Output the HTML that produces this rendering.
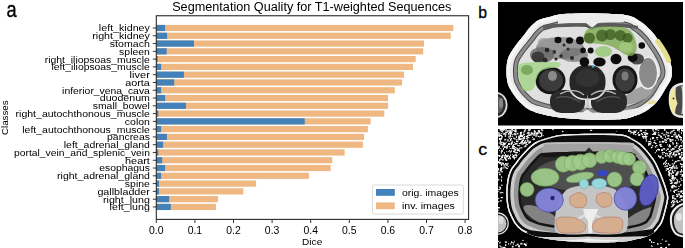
<!DOCTYPE html>
<html><head><meta charset="utf-8"><style>
html,body{margin:0;padding:0;background:#fff;}
body{width:685px;height:248px;overflow:hidden;position:relative;}
svg{position:absolute;left:0;top:0;display:block;}
</style></head><body>
<svg width="685" height="248" viewBox="0 0 685 248">
<defs>
<clipPath id="clipb"><rect width="185" height="123.6"/></clipPath>
<clipPath id="clipc"><rect width="185" height="119"/></clipPath>
<filter id="soft" x="0" y="0" width="1" height="1"><feGaussianBlur stdDeviation="0.7"/></filter>
</defs>
<rect width="685" height="248" fill="#fff"/>
<g font-family="Liberation Sans, sans-serif" fill="#000" style="will-change:transform">
<rect x="156.30" y="24.90" width="297.00" height="6.2" fill="#efb883"/>
<rect x="156.30" y="24.90" width="8.80" height="6.2" fill="#4281b9"/>
<rect x="156.30" y="32.68" width="294.50" height="6.2" fill="#efb883"/>
<rect x="156.30" y="32.68" width="10.80" height="6.2" fill="#4281b9"/>
<rect x="156.30" y="40.46" width="267.70" height="6.2" fill="#efb883"/>
<rect x="156.30" y="40.46" width="37.70" height="6.2" fill="#4281b9"/>
<rect x="156.30" y="48.24" width="266.90" height="6.2" fill="#efb883"/>
<rect x="156.30" y="48.24" width="10.40" height="6.2" fill="#4281b9"/>
<rect x="156.30" y="56.02" width="259.40" height="6.2" fill="#efb883"/>
<rect x="156.30" y="56.02" width="1.40" height="6.2" fill="#4281b9"/>
<rect x="156.30" y="63.80" width="256.70" height="6.2" fill="#efb883"/>
<rect x="156.30" y="63.80" width="4.80" height="6.2" fill="#4281b9"/>
<rect x="156.30" y="71.58" width="247.80" height="6.2" fill="#efb883"/>
<rect x="156.30" y="71.58" width="27.60" height="6.2" fill="#4281b9"/>
<rect x="156.30" y="79.36" width="245.80" height="6.2" fill="#efb883"/>
<rect x="156.30" y="79.36" width="17.90" height="6.2" fill="#4281b9"/>
<rect x="156.30" y="87.14" width="238.50" height="6.2" fill="#efb883"/>
<rect x="156.30" y="87.14" width="4.80" height="6.2" fill="#4281b9"/>
<rect x="156.30" y="94.92" width="231.80" height="6.2" fill="#efb883"/>
<rect x="156.30" y="94.92" width="8.80" height="6.2" fill="#4281b9"/>
<rect x="156.30" y="102.70" width="231.80" height="6.2" fill="#efb883"/>
<rect x="156.30" y="102.70" width="29.60" height="6.2" fill="#4281b9"/>
<rect x="156.30" y="110.48" width="228.00" height="6.2" fill="#efb883"/>
<rect x="156.30" y="110.48" width="2.00" height="6.2" fill="#4281b9"/>
<rect x="156.30" y="118.26" width="214.30" height="6.2" fill="#efb883"/>
<rect x="156.30" y="118.26" width="148.40" height="6.2" fill="#4281b9"/>
<rect x="156.30" y="126.04" width="211.60" height="6.2" fill="#efb883"/>
<rect x="156.30" y="126.04" width="4.80" height="6.2" fill="#4281b9"/>
<rect x="156.30" y="133.82" width="207.80" height="6.2" fill="#efb883"/>
<rect x="156.30" y="133.82" width="10.60" height="6.2" fill="#4281b9"/>
<rect x="156.30" y="141.60" width="206.60" height="6.2" fill="#efb883"/>
<rect x="156.30" y="141.60" width="6.80" height="6.2" fill="#4281b9"/>
<rect x="156.30" y="149.38" width="188.30" height="6.2" fill="#efb883"/>
<rect x="156.30" y="149.38" width="2.00" height="6.2" fill="#4281b9"/>
<rect x="156.30" y="157.16" width="176.00" height="6.2" fill="#efb883"/>
<rect x="156.30" y="157.16" width="5.90" height="6.2" fill="#4281b9"/>
<rect x="156.30" y="164.94" width="174.40" height="6.2" fill="#efb883"/>
<rect x="156.30" y="164.94" width="8.80" height="6.2" fill="#4281b9"/>
<rect x="156.30" y="172.72" width="152.60" height="6.2" fill="#efb883"/>
<rect x="156.30" y="172.72" width="4.80" height="6.2" fill="#4281b9"/>
<rect x="156.30" y="180.50" width="99.80" height="6.2" fill="#efb883"/>
<rect x="156.30" y="180.50" width="2.70" height="6.2" fill="#4281b9"/>
<rect x="156.30" y="188.28" width="87.00" height="6.2" fill="#efb883"/>
<rect x="156.30" y="188.28" width="2.70" height="6.2" fill="#4281b9"/>
<rect x="156.30" y="196.06" width="61.80" height="6.2" fill="#efb883"/>
<rect x="156.30" y="196.06" width="12.90" height="6.2" fill="#4281b9"/>
<rect x="156.30" y="203.84" width="59.60" height="6.2" fill="#efb883"/>
<rect x="156.30" y="203.84" width="14.50" height="6.2" fill="#4281b9"/>
<text x="149.9" y="31.40" text-anchor="end" font-size="9.6" textLength="51.03" lengthAdjust="spacingAndGlyphs">left_kidney</text>
<line x1="152.8" x2="156.5" y1="28.00" y2="28.00" stroke="#000" stroke-width="0.8"/>
<text x="149.9" y="39.18" text-anchor="end" font-size="9.6" textLength="57.68" lengthAdjust="spacingAndGlyphs">right_kidney</text>
<line x1="152.8" x2="156.5" y1="35.78" y2="35.78" stroke="#000" stroke-width="0.8"/>
<text x="149.9" y="46.96" text-anchor="end" font-size="9.6" textLength="40.08" lengthAdjust="spacingAndGlyphs">stomach</text>
<line x1="152.8" x2="156.5" y1="43.56" y2="43.56" stroke="#000" stroke-width="0.8"/>
<text x="149.9" y="54.74" text-anchor="end" font-size="9.6" textLength="30.77" lengthAdjust="spacingAndGlyphs">spleen</text>
<line x1="152.8" x2="156.5" y1="51.34" y2="51.34" stroke="#000" stroke-width="0.8"/>
<text x="149.9" y="62.52" text-anchor="end" font-size="9.6" textLength="105.13" lengthAdjust="spacingAndGlyphs">right_iliopsoas_muscle</text>
<line x1="152.8" x2="156.5" y1="59.12" y2="59.12" stroke="#000" stroke-width="0.8"/>
<text x="149.9" y="70.30" text-anchor="end" font-size="9.6" textLength="98.48" lengthAdjust="spacingAndGlyphs">left_iliopsoas_muscle</text>
<line x1="152.8" x2="156.5" y1="66.90" y2="66.90" stroke="#000" stroke-width="0.8"/>
<text x="149.9" y="78.08" text-anchor="end" font-size="9.6" textLength="20.28" lengthAdjust="spacingAndGlyphs">liver</text>
<line x1="152.8" x2="156.5" y1="74.68" y2="74.68" stroke="#000" stroke-width="0.8"/>
<text x="149.9" y="85.86" text-anchor="end" font-size="9.6" textLength="24.64" lengthAdjust="spacingAndGlyphs">aorta</text>
<line x1="152.8" x2="156.5" y1="82.46" y2="82.46" stroke="#000" stroke-width="0.8"/>
<text x="149.9" y="93.64" text-anchor="end" font-size="9.6" textLength="87.81" lengthAdjust="spacingAndGlyphs">inferior_vena_cava</text>
<line x1="152.8" x2="156.5" y1="90.24" y2="90.24" stroke="#000" stroke-width="0.8"/>
<text x="149.9" y="101.42" text-anchor="end" font-size="9.6" textLength="50.12" lengthAdjust="spacingAndGlyphs">duodenum</text>
<line x1="152.8" x2="156.5" y1="98.02" y2="98.02" stroke="#000" stroke-width="0.8"/>
<text x="149.9" y="109.20" text-anchor="end" font-size="9.6" textLength="57.11" lengthAdjust="spacingAndGlyphs">small_bowel</text>
<line x1="152.8" x2="156.5" y1="105.80" y2="105.80" stroke="#000" stroke-width="0.8"/>
<text x="149.9" y="116.98" text-anchor="end" font-size="9.6" textLength="134.29" lengthAdjust="spacingAndGlyphs">right_autochthonous_muscle</text>
<line x1="152.8" x2="156.5" y1="113.58" y2="113.58" stroke="#000" stroke-width="0.8"/>
<text x="149.9" y="124.76" text-anchor="end" font-size="9.6" textLength="25.05" lengthAdjust="spacingAndGlyphs">colon</text>
<line x1="152.8" x2="156.5" y1="121.36" y2="121.36" stroke="#000" stroke-width="0.8"/>
<text x="149.9" y="132.54" text-anchor="end" font-size="9.6" textLength="127.65" lengthAdjust="spacingAndGlyphs">left_autochthonous_muscle</text>
<line x1="152.8" x2="156.5" y1="129.14" y2="129.14" stroke="#000" stroke-width="0.8"/>
<text x="149.9" y="140.32" text-anchor="end" font-size="9.6" textLength="42.84" lengthAdjust="spacingAndGlyphs">pancreas</text>
<line x1="152.8" x2="156.5" y1="136.92" y2="136.92" stroke="#000" stroke-width="0.8"/>
<text x="149.9" y="148.10" text-anchor="end" font-size="9.6" textLength="86.11" lengthAdjust="spacingAndGlyphs">left_adrenal_gland</text>
<line x1="152.8" x2="156.5" y1="144.70" y2="144.70" stroke="#000" stroke-width="0.8"/>
<text x="149.9" y="155.88" text-anchor="end" font-size="9.6" textLength="135.93" lengthAdjust="spacingAndGlyphs">portal_vein_and_splenic_vein</text>
<line x1="152.8" x2="156.5" y1="152.48" y2="152.48" stroke="#000" stroke-width="0.8"/>
<text x="149.9" y="163.66" text-anchor="end" font-size="9.6" textLength="24.86" lengthAdjust="spacingAndGlyphs">heart</text>
<line x1="152.8" x2="156.5" y1="160.26" y2="160.26" stroke="#000" stroke-width="0.8"/>
<text x="149.9" y="171.44" text-anchor="end" font-size="9.6" textLength="50.56" lengthAdjust="spacingAndGlyphs">esophagus</text>
<line x1="152.8" x2="156.5" y1="168.04" y2="168.04" stroke="#000" stroke-width="0.8"/>
<text x="149.9" y="179.22" text-anchor="end" font-size="9.6" textLength="92.76" lengthAdjust="spacingAndGlyphs">right_adrenal_gland</text>
<line x1="152.8" x2="156.5" y1="175.82" y2="175.82" stroke="#000" stroke-width="0.8"/>
<text x="149.9" y="187.00" text-anchor="end" font-size="9.6" textLength="25.03" lengthAdjust="spacingAndGlyphs">spine</text>
<line x1="152.8" x2="156.5" y1="183.60" y2="183.60" stroke="#000" stroke-width="0.8"/>
<text x="149.9" y="194.78" text-anchor="end" font-size="9.6" textLength="52.48" lengthAdjust="spacingAndGlyphs">gallbladder</text>
<line x1="152.8" x2="156.5" y1="191.38" y2="191.38" stroke="#000" stroke-width="0.8"/>
<text x="149.9" y="202.56" text-anchor="end" font-size="9.6" textLength="46.93" lengthAdjust="spacingAndGlyphs">right_lung</text>
<line x1="152.8" x2="156.5" y1="199.16" y2="199.16" stroke="#000" stroke-width="0.8"/>
<text x="149.9" y="210.34" text-anchor="end" font-size="9.6" textLength="40.28" lengthAdjust="spacingAndGlyphs">left_lung</text>
<line x1="152.8" x2="156.5" y1="206.94" y2="206.94" stroke="#000" stroke-width="0.8"/>
<line x1="156.30" x2="156.30" y1="219.5" y2="223" stroke="#000" stroke-width="0.8"/>
<text x="156.30" y="233.5" text-anchor="middle" font-size="10.2" textLength="14.55" lengthAdjust="spacingAndGlyphs">0.0</text>
<line x1="194.90" x2="194.90" y1="219.5" y2="223" stroke="#000" stroke-width="0.8"/>
<text x="194.90" y="233.5" text-anchor="middle" font-size="10.2" textLength="14.55" lengthAdjust="spacingAndGlyphs">0.1</text>
<line x1="233.50" x2="233.50" y1="219.5" y2="223" stroke="#000" stroke-width="0.8"/>
<text x="233.50" y="233.5" text-anchor="middle" font-size="10.2" textLength="14.55" lengthAdjust="spacingAndGlyphs">0.2</text>
<line x1="272.10" x2="272.10" y1="219.5" y2="223" stroke="#000" stroke-width="0.8"/>
<text x="272.10" y="233.5" text-anchor="middle" font-size="10.2" textLength="14.55" lengthAdjust="spacingAndGlyphs">0.3</text>
<line x1="310.70" x2="310.70" y1="219.5" y2="223" stroke="#000" stroke-width="0.8"/>
<text x="310.70" y="233.5" text-anchor="middle" font-size="10.2" textLength="14.55" lengthAdjust="spacingAndGlyphs">0.4</text>
<line x1="349.30" x2="349.30" y1="219.5" y2="223" stroke="#000" stroke-width="0.8"/>
<text x="349.30" y="233.5" text-anchor="middle" font-size="10.2" textLength="14.55" lengthAdjust="spacingAndGlyphs">0.5</text>
<line x1="387.90" x2="387.90" y1="219.5" y2="223" stroke="#000" stroke-width="0.8"/>
<text x="387.90" y="233.5" text-anchor="middle" font-size="10.2" textLength="14.55" lengthAdjust="spacingAndGlyphs">0.6</text>
<line x1="426.50" x2="426.50" y1="219.5" y2="223" stroke="#000" stroke-width="0.8"/>
<text x="426.50" y="233.5" text-anchor="middle" font-size="10.2" textLength="14.55" lengthAdjust="spacingAndGlyphs">0.7</text>
<line x1="465.10" x2="465.10" y1="219.5" y2="223" stroke="#000" stroke-width="0.8"/>
<text x="465.10" y="233.5" text-anchor="middle" font-size="10.2" textLength="14.55" lengthAdjust="spacingAndGlyphs">0.8</text>
<rect x="156.3" y="15.75" width="312.3" height="203.65" fill="none" stroke="#2a2a2a" stroke-width="1.1"/>
<text x="311.8" y="10.9" text-anchor="middle" font-size="12.3" textLength="279.23" lengthAdjust="spacingAndGlyphs">Segmentation Quality for T1-weighted Sequences</text>
<text x="312.2" y="244.9" text-anchor="middle" font-size="9.6" textLength="20.25" lengthAdjust="spacingAndGlyphs">Dice</text>
<text transform="translate(8.3,117.7) rotate(-90)" x="0" y="0" text-anchor="middle" font-size="9.6" textLength="34.47" lengthAdjust="spacingAndGlyphs">Classes</text>
<rect x="372.5" y="185" width="90.8" height="29" rx="2" ry="2" fill="#fff" fill-opacity="0.8" stroke="#d6d6d6" stroke-width="0.9"/>
<rect x="376" y="189" width="18.8" height="6.8" fill="#4281b9"/>
<rect x="376" y="202.4" width="18.8" height="6.8" fill="#efb883"/>
<text x="402" y="195.6" font-size="9.6" textLength="56.79" lengthAdjust="spacingAndGlyphs">orig. images</text>
<text x="402" y="209" font-size="9.6" textLength="52.84" lengthAdjust="spacingAndGlyphs">inv. images</text>
</g>
<text x="0" y="0" font-family="Liberation Sans, sans-serif" font-size="21.7" stroke="#000" stroke-width="0.35" transform="translate(6.4,16.6) scale(0.84,1)">a</text>
<text x="478.3" y="17.9" font-family="Liberation Sans, sans-serif" font-size="15.8" stroke="#000" stroke-width="0.3">b</text>
<text x="0" y="0" font-family="Liberation Sans, sans-serif" font-size="17" stroke="#000" stroke-width="0.3" transform="translate(478.2,154.9) scale(1.05,1)">c</text>
<g transform="translate(498,2)" clip-path="url(#clipb)"><g filter="url(#soft)">
<rect width="185" height="124" fill="#000"/>
<ellipse cx="-2" cy="103" rx="11.5" ry="13" fill="#e0e0e0"/>
<ellipse cx="-2" cy="103" rx="9.8" ry="11.3" fill="#2a2a2a"/>
<ellipse cx="-1" cy="103" rx="6.5" ry="8.5" fill="#5a5a5a"/>
<ellipse cx="3" cy="101" rx="2" ry="5" fill="#888"/>
<path d="M186,80.5 C179,80.5 173.5,84 171.5,90 C170,97 170.5,106 174.5,112 C177.5,115.5 182,116 186,116 Z" fill="#e8e8e8"/>
<path d="M186,83 C180,83 175.5,86 174,91 C172.5,98 173,106 176,110.5 C178.5,113 182,113.5 186,113.5 Z" fill="#4a4a4a"/>
<path d="M178,84.5 C173.5,87 171.3,93 171.5,99 C171.8,105 173.5,110 177.5,113.5 C176.5,109 177.5,105 179.5,101.5 C177.5,97 177,91 178,84.5Z" fill="#f0e8a0"/>
<circle cx="175.5" cy="96.5" r="1" fill="#333"/>
<path d="M184,84 C185.5,90 185.5,106 184,112" stroke="#d0d0d0" stroke-width="1.5" fill="none"/>
<clipPath id="cbody"><path d="M62.00,12.40 C66.67,11.77 72.50,11.70 78.00,11.50 C83.50,11.30 89.67,11.15 95.00,11.20 C100.33,11.25 105.17,11.57 110.00,11.80 C114.83,12.03 120.00,12.10 124.00,12.60 C128.00,13.10 131.17,13.77 134.00,14.80 C136.83,15.83 138.83,17.43 141.00,18.80 C143.17,20.17 145.17,21.50 147.00,23.00 C148.83,24.50 150.50,26.25 152.00,27.80 C153.50,29.35 154.62,30.52 156.00,32.30 C157.38,34.08 158.57,35.93 160.30,38.50 C162.03,41.07 164.58,44.55 166.40,47.70 C168.22,50.85 169.97,54.18 171.20,57.40 C172.43,60.62 173.50,63.78 173.80,67.00 C174.10,70.22 174.05,73.47 173.00,76.70 C171.95,79.93 169.50,83.02 167.50,86.40 C165.50,89.78 163.17,94.07 161.00,97.00 C158.83,99.93 157.00,101.83 154.50,104.00 C152.00,106.17 149.25,108.25 146.00,110.00 C142.75,111.75 138.67,113.33 135.00,114.50 C131.33,115.67 129.83,116.45 124.00,117.00 C118.17,117.55 107.33,117.80 100.00,117.80 C92.67,117.80 86.33,117.38 80.00,117.00 C73.67,116.62 67.00,116.08 62.00,115.50 C57.00,114.92 53.67,114.25 50.00,113.50 C46.33,112.75 43.17,111.98 40.00,111.00 C36.83,110.02 33.50,108.93 31.00,107.60 C28.50,106.27 27.00,104.77 25.00,103.00 C23.00,101.23 20.83,99.17 19.00,97.00 C17.17,94.83 15.50,92.50 14.00,90.00 C12.50,87.50 10.92,85.00 10.00,82.00 C9.08,79.00 8.67,75.50 8.50,72.00 C8.33,68.50 8.58,64.00 9.00,61.00 C9.42,58.00 10.08,56.17 11.00,54.00 C11.92,51.83 13.08,50.17 14.50,48.00 C15.92,45.83 17.50,43.58 19.50,41.00 C21.50,38.42 24.58,34.92 26.50,32.50 C28.42,30.08 29.42,28.33 31.00,26.50 C32.58,24.67 34.33,22.92 36.00,21.50 C37.67,20.08 38.67,19.03 41.00,18.00 C43.33,16.97 46.50,16.23 50.00,15.30 C53.50,14.37 57.33,13.03 62.00,12.40Z"/></clipPath>
<path d="M62.00,12.40 C66.67,11.77 72.50,11.70 78.00,11.50 C83.50,11.30 89.67,11.15 95.00,11.20 C100.33,11.25 105.17,11.57 110.00,11.80 C114.83,12.03 120.00,12.10 124.00,12.60 C128.00,13.10 131.17,13.77 134.00,14.80 C136.83,15.83 138.83,17.43 141.00,18.80 C143.17,20.17 145.17,21.50 147.00,23.00 C148.83,24.50 150.50,26.25 152.00,27.80 C153.50,29.35 154.62,30.52 156.00,32.30 C157.38,34.08 158.57,35.93 160.30,38.50 C162.03,41.07 164.58,44.55 166.40,47.70 C168.22,50.85 169.97,54.18 171.20,57.40 C172.43,60.62 173.50,63.78 173.80,67.00 C174.10,70.22 174.05,73.47 173.00,76.70 C171.95,79.93 169.50,83.02 167.50,86.40 C165.50,89.78 163.17,94.07 161.00,97.00 C158.83,99.93 157.00,101.83 154.50,104.00 C152.00,106.17 149.25,108.25 146.00,110.00 C142.75,111.75 138.67,113.33 135.00,114.50 C131.33,115.67 129.83,116.45 124.00,117.00 C118.17,117.55 107.33,117.80 100.00,117.80 C92.67,117.80 86.33,117.38 80.00,117.00 C73.67,116.62 67.00,116.08 62.00,115.50 C57.00,114.92 53.67,114.25 50.00,113.50 C46.33,112.75 43.17,111.98 40.00,111.00 C36.83,110.02 33.50,108.93 31.00,107.60 C28.50,106.27 27.00,104.77 25.00,103.00 C23.00,101.23 20.83,99.17 19.00,97.00 C17.17,94.83 15.50,92.50 14.00,90.00 C12.50,87.50 10.92,85.00 10.00,82.00 C9.08,79.00 8.67,75.50 8.50,72.00 C8.33,68.50 8.58,64.00 9.00,61.00 C9.42,58.00 10.08,56.17 11.00,54.00 C11.92,51.83 13.08,50.17 14.50,48.00 C15.92,45.83 17.50,43.58 19.50,41.00 C21.50,38.42 24.58,34.92 26.50,32.50 C28.42,30.08 29.42,28.33 31.00,26.50 C32.58,24.67 34.33,22.92 36.00,21.50 C37.67,20.08 38.67,19.03 41.00,18.00 C43.33,16.97 46.50,16.23 50.00,15.30 C53.50,14.37 57.33,13.03 62.00,12.40Z" fill="#e0e0e0"/>
<g clip-path="url(#cbody)">
<path d="M62.00,12.40 C66.67,11.77 72.50,11.70 78.00,11.50 C83.50,11.30 89.67,11.15 95.00,11.20 C100.33,11.25 105.17,11.57 110.00,11.80 C114.83,12.03 120.00,12.10 124.00,12.60 C128.00,13.10 131.17,13.77 134.00,14.80 C136.83,15.83 138.83,17.43 141.00,18.80 C143.17,20.17 145.17,21.50 147.00,23.00 C148.83,24.50 150.50,26.25 152.00,27.80 C153.50,29.35 154.62,30.52 156.00,32.30 C157.38,34.08 158.57,35.93 160.30,38.50 C162.03,41.07 164.58,44.55 166.40,47.70 C168.22,50.85 169.97,54.18 171.20,57.40 C172.43,60.62 173.50,63.78 173.80,67.00 C174.10,70.22 174.05,73.47 173.00,76.70 C171.95,79.93 169.50,83.02 167.50,86.40 C165.50,89.78 163.17,94.07 161.00,97.00 C158.83,99.93 157.00,101.83 154.50,104.00 C152.00,106.17 149.25,108.25 146.00,110.00 C142.75,111.75 138.67,113.33 135.00,114.50 C131.33,115.67 129.83,116.45 124.00,117.00 C118.17,117.55 107.33,117.80 100.00,117.80 C92.67,117.80 86.33,117.38 80.00,117.00 C73.67,116.62 67.00,116.08 62.00,115.50 C57.00,114.92 53.67,114.25 50.00,113.50 C46.33,112.75 43.17,111.98 40.00,111.00 C36.83,110.02 33.50,108.93 31.00,107.60 C28.50,106.27 27.00,104.77 25.00,103.00 C23.00,101.23 20.83,99.17 19.00,97.00 C17.17,94.83 15.50,92.50 14.00,90.00 C12.50,87.50 10.92,85.00 10.00,82.00 C9.08,79.00 8.67,75.50 8.50,72.00 C8.33,68.50 8.58,64.00 9.00,61.00 C9.42,58.00 10.08,56.17 11.00,54.00 C11.92,51.83 13.08,50.17 14.50,48.00 C15.92,45.83 17.50,43.58 19.50,41.00 C21.50,38.42 24.58,34.92 26.50,32.50 C28.42,30.08 29.42,28.33 31.00,26.50 C32.58,24.67 34.33,22.92 36.00,21.50 C37.67,20.08 38.67,19.03 41.00,18.00 C43.33,16.97 46.50,16.23 50.00,15.30 C53.50,14.37 57.33,13.03 62.00,12.40Z" fill="none" stroke="#505050" stroke-width="23"/>
<path d="M62.00,12.40 C66.67,11.77 72.50,11.70 78.00,11.50 C83.50,11.30 89.67,11.15 95.00,11.20 C100.33,11.25 105.17,11.57 110.00,11.80 C114.83,12.03 120.00,12.10 124.00,12.60 C128.00,13.10 131.17,13.77 134.00,14.80 C136.83,15.83 138.83,17.43 141.00,18.80 C143.17,20.17 145.17,21.50 147.00,23.00 C148.83,24.50 150.50,26.25 152.00,27.80 C153.50,29.35 154.62,30.52 156.00,32.30 C157.38,34.08 158.57,35.93 160.30,38.50 C162.03,41.07 164.58,44.55 166.40,47.70 C168.22,50.85 169.97,54.18 171.20,57.40 C172.43,60.62 173.50,63.78 173.80,67.00 C174.10,70.22 174.05,73.47 173.00,76.70 C171.95,79.93 169.50,83.02 167.50,86.40 C165.50,89.78 163.17,94.07 161.00,97.00 C158.83,99.93 157.00,101.83 154.50,104.00 C152.00,106.17 149.25,108.25 146.00,110.00 C142.75,111.75 138.67,113.33 135.00,114.50 C131.33,115.67 129.83,116.45 124.00,117.00 C118.17,117.55 107.33,117.80 100.00,117.80 C92.67,117.80 86.33,117.38 80.00,117.00 C73.67,116.62 67.00,116.08 62.00,115.50 C57.00,114.92 53.67,114.25 50.00,113.50 C46.33,112.75 43.17,111.98 40.00,111.00 C36.83,110.02 33.50,108.93 31.00,107.60 C28.50,106.27 27.00,104.77 25.00,103.00 C23.00,101.23 20.83,99.17 19.00,97.00 C17.17,94.83 15.50,92.50 14.00,90.00 C12.50,87.50 10.92,85.00 10.00,82.00 C9.08,79.00 8.67,75.50 8.50,72.00 C8.33,68.50 8.58,64.00 9.00,61.00 C9.42,58.00 10.08,56.17 11.00,54.00 C11.92,51.83 13.08,50.17 14.50,48.00 C15.92,45.83 17.50,43.58 19.50,41.00 C21.50,38.42 24.58,34.92 26.50,32.50 C28.42,30.08 29.42,28.33 31.00,26.50 C32.58,24.67 34.33,22.92 36.00,21.50 C37.67,20.08 38.67,19.03 41.00,18.00 C43.33,16.97 46.50,16.23 50.00,15.30 C53.50,14.37 57.33,13.03 62.00,12.40Z" fill="none" stroke="#8c8c8c" stroke-width="21"/>
<path d="M62.00,12.40 C66.67,11.77 72.50,11.70 78.00,11.50 C83.50,11.30 89.67,11.15 95.00,11.20 C100.33,11.25 105.17,11.57 110.00,11.80 C114.83,12.03 120.00,12.10 124.00,12.60 C128.00,13.10 131.17,13.77 134.00,14.80 C136.83,15.83 138.83,17.43 141.00,18.80 C143.17,20.17 145.17,21.50 147.00,23.00 C148.83,24.50 150.50,26.25 152.00,27.80 C153.50,29.35 154.62,30.52 156.00,32.30 C157.38,34.08 158.57,35.93 160.30,38.50 C162.03,41.07 164.58,44.55 166.40,47.70 C168.22,50.85 169.97,54.18 171.20,57.40 C172.43,60.62 173.50,63.78 173.80,67.00 C174.10,70.22 174.05,73.47 173.00,76.70 C171.95,79.93 169.50,83.02 167.50,86.40 C165.50,89.78 163.17,94.07 161.00,97.00 C158.83,99.93 157.00,101.83 154.50,104.00 C152.00,106.17 149.25,108.25 146.00,110.00 C142.75,111.75 138.67,113.33 135.00,114.50 C131.33,115.67 129.83,116.45 124.00,117.00 C118.17,117.55 107.33,117.80 100.00,117.80 C92.67,117.80 86.33,117.38 80.00,117.00 C73.67,116.62 67.00,116.08 62.00,115.50 C57.00,114.92 53.67,114.25 50.00,113.50 C46.33,112.75 43.17,111.98 40.00,111.00 C36.83,110.02 33.50,108.93 31.00,107.60 C28.50,106.27 27.00,104.77 25.00,103.00 C23.00,101.23 20.83,99.17 19.00,97.00 C17.17,94.83 15.50,92.50 14.00,90.00 C12.50,87.50 10.92,85.00 10.00,82.00 C9.08,79.00 8.67,75.50 8.50,72.00 C8.33,68.50 8.58,64.00 9.00,61.00 C9.42,58.00 10.08,56.17 11.00,54.00 C11.92,51.83 13.08,50.17 14.50,48.00 C15.92,45.83 17.50,43.58 19.50,41.00 C21.50,38.42 24.58,34.92 26.50,32.50 C28.42,30.08 29.42,28.33 31.00,26.50 C32.58,24.67 34.33,22.92 36.00,21.50 C37.67,20.08 38.67,19.03 41.00,18.00 C43.33,16.97 46.50,16.23 50.00,15.30 C53.50,14.37 57.33,13.03 62.00,12.40Z" fill="none" stroke="#4a4a4a" stroke-width="15"/>
<path d="M62.00,12.40 C66.67,11.77 72.50,11.70 78.00,11.50 C83.50,11.30 89.67,11.15 95.00,11.20 C100.33,11.25 105.17,11.57 110.00,11.80 C114.83,12.03 120.00,12.10 124.00,12.60 C128.00,13.10 131.17,13.77 134.00,14.80 C136.83,15.83 138.83,17.43 141.00,18.80 C143.17,20.17 145.17,21.50 147.00,23.00 C148.83,24.50 150.50,26.25 152.00,27.80 C153.50,29.35 154.62,30.52 156.00,32.30 C157.38,34.08 158.57,35.93 160.30,38.50 C162.03,41.07 164.58,44.55 166.40,47.70 C168.22,50.85 169.97,54.18 171.20,57.40 C172.43,60.62 173.50,63.78 173.80,67.00 C174.10,70.22 174.05,73.47 173.00,76.70 C171.95,79.93 169.50,83.02 167.50,86.40 C165.50,89.78 163.17,94.07 161.00,97.00 C158.83,99.93 157.00,101.83 154.50,104.00 C152.00,106.17 149.25,108.25 146.00,110.00 C142.75,111.75 138.67,113.33 135.00,114.50 C131.33,115.67 129.83,116.45 124.00,117.00 C118.17,117.55 107.33,117.80 100.00,117.80 C92.67,117.80 86.33,117.38 80.00,117.00 C73.67,116.62 67.00,116.08 62.00,115.50 C57.00,114.92 53.67,114.25 50.00,113.50 C46.33,112.75 43.17,111.98 40.00,111.00 C36.83,110.02 33.50,108.93 31.00,107.60 C28.50,106.27 27.00,104.77 25.00,103.00 C23.00,101.23 20.83,99.17 19.00,97.00 C17.17,94.83 15.50,92.50 14.00,90.00 C12.50,87.50 10.92,85.00 10.00,82.00 C9.08,79.00 8.67,75.50 8.50,72.00 C8.33,68.50 8.58,64.00 9.00,61.00 C9.42,58.00 10.08,56.17 11.00,54.00 C11.92,51.83 13.08,50.17 14.50,48.00 C15.92,45.83 17.50,43.58 19.50,41.00 C21.50,38.42 24.58,34.92 26.50,32.50 C28.42,30.08 29.42,28.33 31.00,26.50 C32.58,24.67 34.33,22.92 36.00,21.50 C37.67,20.08 38.67,19.03 41.00,18.00 C43.33,16.97 46.50,16.23 50.00,15.30 C53.50,14.37 57.33,13.03 62.00,12.40Z" fill="none" stroke="#ececec" stroke-width="13"/>
<path d="M62.00,12.40 C66.67,11.77 72.50,11.70 78.00,11.50 C83.50,11.30 89.67,11.15 95.00,11.20 C100.33,11.25 105.17,11.57 110.00,11.80 C114.83,12.03 120.00,12.10 124.00,12.60 C128.00,13.10 131.17,13.77 134.00,14.80 C136.83,15.83 138.83,17.43 141.00,18.80 C143.17,20.17 145.17,21.50 147.00,23.00 C148.83,24.50 150.50,26.25 152.00,27.80 C153.50,29.35 154.62,30.52 156.00,32.30 C157.38,34.08 158.57,35.93 160.30,38.50 C162.03,41.07 164.58,44.55 166.40,47.70 C168.22,50.85 169.97,54.18 171.20,57.40 C172.43,60.62 173.50,63.78 173.80,67.00 C174.10,70.22 174.05,73.47 173.00,76.70 C171.95,79.93 169.50,83.02 167.50,86.40 C165.50,89.78 163.17,94.07 161.00,97.00 C158.83,99.93 157.00,101.83 154.50,104.00 C152.00,106.17 149.25,108.25 146.00,110.00 C142.75,111.75 138.67,113.33 135.00,114.50 C131.33,115.67 129.83,116.45 124.00,117.00 C118.17,117.55 107.33,117.80 100.00,117.80 C92.67,117.80 86.33,117.38 80.00,117.00 C73.67,116.62 67.00,116.08 62.00,115.50 C57.00,114.92 53.67,114.25 50.00,113.50 C46.33,112.75 43.17,111.98 40.00,111.00 C36.83,110.02 33.50,108.93 31.00,107.60 C28.50,106.27 27.00,104.77 25.00,103.00 C23.00,101.23 20.83,99.17 19.00,97.00 C17.17,94.83 15.50,92.50 14.00,90.00 C12.50,87.50 10.92,85.00 10.00,82.00 C9.08,79.00 8.67,75.50 8.50,72.00 C8.33,68.50 8.58,64.00 9.00,61.00 C9.42,58.00 10.08,56.17 11.00,54.00 C11.92,51.83 13.08,50.17 14.50,48.00 C15.92,45.83 17.50,43.58 19.50,41.00 C21.50,38.42 24.58,34.92 26.50,32.50 C28.42,30.08 29.42,28.33 31.00,26.50 C32.58,24.67 34.33,22.92 36.00,21.50 C37.67,20.08 38.67,19.03 41.00,18.00 C43.33,16.97 46.50,16.23 50.00,15.30 C53.50,14.37 57.33,13.03 62.00,12.40Z" fill="none" stroke="#f6f6f6" stroke-width="7"/>
<path d="M60,12 L126,12 L126,20 C115,20.5 105,20 100,21 L94,25.5 L88,21 C78,21 68,21.5 60,22 Z" fill="#ececec"/>
<path d="M45,23 C60,21.5 75,21 88,21.5 L94,25.5 L100,21.5 C115,20.5 125,21 140,24 L140,27 C125,25 112,24.5 100,25.5 L94,28 L88,25 C72,24.5 58,25 45,27 Z" fill="#5a5a5a"/>
<path d="M40,104 C55,108 70,110 84,110.5 L89,107.5 L94,110.5 C110,110.5 125,109 140,106 L150,118 L30,118 Z" fill="#ececec"/>
<ellipse cx="62" cy="46" rx="24" ry="11" fill="#858585" opacity="0.8"/>
<ellipse cx="76" cy="53" rx="14" ry="7" fill="#6e6e6e" opacity="0.7"/>
<circle cx="56" cy="50" r="2" fill="#2a2a2a"/>
<circle cx="63" cy="54" r="1.8" fill="#2a2a2a"/>
<circle cx="70" cy="47" r="1.6" fill="#2a2a2a"/>
<circle cx="74" cy="56" r="2" fill="#2a2a2a"/>
<circle cx="66" cy="43" r="1.5" fill="#2a2a2a"/>
<circle cx="58" cy="57" r="1.6" fill="#2a2a2a"/>
<ellipse cx="44" cy="53" rx="12" ry="8" fill="#6a6a6a" opacity="0.85"/>
<ellipse cx="40" cy="55" rx="6.5" ry="5.5" fill="#3a3a3a"/>
<circle cx="49" cy="48" r="2.2" fill="#222"/>
<circle cx="47" cy="58" r="2.5" fill="#2a2a2a"/>
<ellipse cx="46" cy="40" rx="6" ry="4" fill="#9a9a9a" opacity="0.8"/>
<ellipse cx="140" cy="93" rx="17" ry="6.5" transform="rotate(-27 140 93)" fill="#a0a0a0"/>
<ellipse cx="150" cy="71" rx="10.5" ry="16.5" fill="#f0f0f0"/>
<ellipse cx="150" cy="71" rx="9" ry="15" fill="#8a8a8a"/>
<ellipse cx="139" cy="57" rx="7" ry="5.5" fill="#4a4a4a"/>
<ellipse cx="52.5" cy="78.5" rx="15" ry="13.8" fill="#161616"/>
<ellipse cx="53" cy="78.5" rx="12" ry="11" fill="#3a3a3a"/>
<ellipse cx="54.5" cy="74" rx="4.5" ry="5" fill="#8a8a8a"/>
<ellipse cx="127" cy="77.7" rx="12.5" ry="14.3" fill="#161616"/>
<ellipse cx="127" cy="78" rx="9.8" ry="11.5" fill="#3a3a3a"/>
<ellipse cx="127" cy="74" rx="3.5" ry="4.5" fill="#7a7a7a"/>
<rect x="52" y="88" width="35" height="23" rx="11" ry="10" fill="#2a2a2a"/>
<rect x="93" y="88" width="36" height="23" rx="11" ry="10" fill="#2a2a2a"/>
<path d="M58,96 C66,93 74,95 82,100 M98,100 C106,95 114,93 122,96" stroke="#555" stroke-width="1.2" fill="none"/>
<rect x="70" y="62" width="39" height="36" rx="16" ry="16" fill="#e0e0e0"/>
<rect x="71.5" y="63.5" width="36" height="33" rx="15" ry="15" fill="#262626"/>
<ellipse cx="89.5" cy="76" rx="12" ry="9" fill="#333"/>
<path d="M89.5,92 L88.5,102 L86,108 L89.5,105 L93,108 L90.5,102Z" fill="#c8c8c8"/>
<path d="M62,92 C72,87 80,88 86,93" stroke="#b8b8b8" stroke-width="1.3" fill="none"/>
<path d="M93,93 C100,88 108,87 118,92" stroke="#b8b8b8" stroke-width="1.3" fill="none"/>
<ellipse cx="60" cy="38" rx="3.5" ry="3.2" fill="#0e0e0e"/>
<ellipse cx="71.5" cy="38.5" rx="3.5" ry="3.3" fill="#0e0e0e"/>
<ellipse cx="82" cy="38.5" rx="4" ry="4" fill="#0e0e0e"/>
<ellipse cx="85" cy="48.4" rx="2.8" ry="2.8" fill="#0e0e0e"/>
<ellipse cx="92.6" cy="48.4" rx="3" ry="3" fill="#0e0e0e"/>
<ellipse cx="86.4" cy="60" rx="4.8" ry="4.8" fill="#0e0e0e"/>
<ellipse cx="101.5" cy="60" rx="6.2" ry="4.5" fill="#0e0e0e"/>
<ellipse cx="118" cy="57" rx="5.5" ry="5.2" fill="#0e0e0e"/>
<ellipse cx="134.7" cy="55.5" rx="5" ry="4.5" fill="#0e0e0e"/>
<ellipse cx="143.8" cy="43.5" rx="3.3" ry="3.3" fill="#0e0e0e"/>
<circle cx="95" cy="64.5" r="1.2" fill="#3ab0e0"/>
</g>
<path d="M86.00,33.00 C86.67,31.00 87.67,28.33 90.00,27.00 C92.33,25.67 96.33,25.42 100.00,25.00 C103.67,24.58 108.33,24.50 112.00,24.50 C115.67,24.50 119.00,24.58 122.00,25.00 C125.00,25.42 127.83,25.83 130.00,27.00 C132.17,28.17 133.67,29.83 135.00,32.00 C136.33,34.17 137.42,37.33 138.00,40.00 C138.58,42.67 139.00,45.75 138.50,48.00 C138.00,50.25 136.75,52.67 135.00,53.50 C133.25,54.33 130.50,53.92 128.00,53.00 C125.50,52.08 122.67,49.50 120.00,48.00 C117.33,46.50 115.00,45.00 112.00,44.00 C109.00,43.00 105.33,42.42 102.00,42.00 C98.67,41.58 94.67,42.00 92.00,41.50 C89.33,41.00 87.00,40.42 86.00,39.00 C85.00,37.58 85.33,35.00 86.00,33.00Z" fill="#7eaa50" opacity="0.8"/>
<circle cx="91.5" cy="36" r="5.5" fill="#3a5a1e" opacity="0.75"/>
<circle cx="104" cy="33.4" r="6" fill="#3a5a1e" opacity="0.75"/>
<circle cx="112.4" cy="32.5" r="5.5" fill="#3a5a1e" opacity="0.75"/>
<circle cx="122.4" cy="33.4" r="5.5" fill="#3a5a1e" opacity="0.75"/>
<circle cx="129.6" cy="36" r="5" fill="#3a5a1e" opacity="0.75"/>
<ellipse cx="128" cy="45" rx="7" ry="5" fill="#a8cc80" opacity="0.7"/>
<ellipse cx="105.5" cy="49.5" rx="8.7" ry="5.4" fill="#98c878" opacity="0.85"/>
<path d="M21.00,63.00 C22.67,61.25 26.00,61.00 30.00,60.50 C34.00,60.00 39.83,60.00 45.00,60.00 C50.17,60.00 58.33,59.67 61.00,60.50 C63.67,61.33 62.83,64.00 61.00,65.00 C59.17,66.00 53.17,65.67 50.00,66.50 C46.83,67.33 44.00,68.08 42.00,70.00 C40.00,71.92 39.00,75.33 38.00,78.00 C37.00,80.67 37.17,84.17 36.00,86.00 C34.83,87.83 32.83,88.75 31.00,89.00 C29.17,89.25 26.50,89.00 25.00,87.50 C23.50,86.00 22.83,82.75 22.00,80.00 C21.17,77.25 20.17,73.83 20.00,71.00 C19.83,68.17 19.33,64.75 21.00,63.00Z" fill="#a4d488" opacity="0.85"/>
<ellipse cx="29" cy="68" rx="6" ry="5" fill="#4a7a2a" opacity="0.5"/>
<path d="M159.8,39.5 Q164.5,46 167,50.5 T170.6,58.5" stroke="#e4dc8e" stroke-width="5" stroke-linecap="round" fill="none"/>
<ellipse cx="153.8" cy="100.3" rx="4.3" ry="1.8" transform="rotate(-15 153.8 100.3)" fill="#e0dc98" opacity="0.95"/>
</g></g>
<g transform="translate(498,129)" clip-path="url(#clipc)"><g filter="url(#soft)">
<rect width="185" height="119" fill="#000"/>
<g><rect x="1.7" y="0.0" width="1.8" height="1.8" fill="#fff"/><rect x="2.8" y="0.0" width="2.2" height="1" fill="#fff"/><rect x="4.1" y="0.0" width="2.2" height="1.8" fill="#fff"/><rect x="5.9" y="-0.2" width="1.5" height="1.2" fill="#fff"/><rect x="8.0" y="-0.3" width="1.2" height="1.8" fill="#c0c0c0"/><rect x="12.9" y="0.3" width="1.8" height="1.2" fill="#fff"/><rect x="13.8" y="-0.0" width="1" height="1.5" fill="#fff"/><rect x="17.0" y="0.1" width="1.5" height="1.8" fill="#fff"/><rect x="26.7" y="0.2" width="1.5" height="1" fill="#fff"/><rect x="30.1" y="0.1" width="2.2" height="1.8" fill="#e0e0e0"/><rect x="31.7" y="-0.3" width="1.2" height="1" fill="#fff"/><rect x="42.9" y="0.1" width="1.5" height="1.5" fill="#fff"/><rect x="54.3" y="0.1" width="1.5" height="1" fill="#fff"/><rect x="130.8" y="-0.1" width="1" height="1.5" fill="#fff"/><rect x="154.1" y="0.1" width="1.8" height="1" fill="#e0e0e0"/><rect x="157.0" y="-0.0" width="2.2" height="1.2" fill="#fff"/><rect x="158.3" y="0.3" width="1.8" height="1" fill="#c0c0c0"/><rect x="166.0" y="-0.1" width="1.5" height="1.8" fill="#fff"/><rect x="178.9" y="0.1" width="1.5" height="1.8" fill="#fff"/><rect x="180.2" y="0.0" width="1.8" height="1.5" fill="#fff"/><rect x="183.0" y="-0.1" width="1.2" height="1" fill="#fff"/><rect x="2.9" y="1.2" width="1" height="1.8" fill="#e0e0e0"/><rect x="7.1" y="1.2" width="1.5" height="1.2" fill="#e0e0e0"/><rect x="9.2" y="1.2" width="1" height="1.8" fill="#e0e0e0"/><rect x="10.3" y="1.0" width="2.2" height="1.8" fill="#e0e0e0"/><rect x="10.8" y="0.8" width="2.2" height="1" fill="#e0e0e0"/><rect x="11.8" y="1.2" width="1.2" height="1.2" fill="#c0c0c0"/><rect x="15.1" y="0.8" width="2.2" height="1.2" fill="#e0e0e0"/><rect x="15.9" y="1.2" width="2.2" height="1.5" fill="#e0e0e0"/><rect x="25.8" y="1.2" width="1.8" height="1.2" fill="#fff"/><rect x="29.8" y="0.9" width="2.2" height="1.2" fill="#e0e0e0"/><rect x="35.9" y="0.9" width="1" height="1" fill="#fff"/><rect x="39.8" y="1.1" width="2.2" height="1.8" fill="#fff"/><rect x="44.2" y="0.7" width="1" height="1.5" fill="#fff"/><rect x="92.0" y="0.8" width="2.2" height="1.2" fill="#e0e0e0"/><rect x="130.0" y="0.9" width="1.2" height="1.8" fill="#fff"/><rect x="137.8" y="0.9" width="1.2" height="1.2" fill="#c0c0c0"/><rect x="141.7" y="0.7" width="2.2" height="1.8" fill="#e0e0e0"/><rect x="143.0" y="1.2" width="1.2" height="1" fill="#fff"/><rect x="147.2" y="0.8" width="1.2" height="1.2" fill="#e0e0e0"/><rect x="153.9" y="0.8" width="1" height="1" fill="#c0c0c0"/><rect x="155.0" y="1.3" width="1.2" height="1.8" fill="#c0c0c0"/><rect x="160.0" y="0.8" width="1.2" height="1" fill="#fff"/><rect x="174.8" y="0.7" width="1.2" height="1.5" fill="#fff"/><rect x="176.1" y="0.7" width="1" height="1" fill="#fff"/><rect x="183.1" y="0.9" width="1" height="1.2" fill="#fff"/><rect x="183.9" y="1.0" width="1.5" height="1.5" fill="#fff"/><rect x="4.1" y="2.0" width="1" height="1.5" fill="#fff"/><rect x="9.0" y="2.0" width="1.2" height="1.2" fill="#e0e0e0"/><rect x="11.8" y="1.9" width="1.8" height="1" fill="#e0e0e0"/><rect x="13.2" y="1.7" width="1.5" height="1.8" fill="#c0c0c0"/><rect x="16.9" y="1.9" width="1.8" height="1.5" fill="#fff"/><rect x="25.8" y="1.8" width="1.5" height="1.5" fill="#e0e0e0"/><rect x="35.8" y="1.8" width="1.8" height="1.5" fill="#fff"/><rect x="64.0" y="1.8" width="1.5" height="1.5" fill="#fff"/><rect x="118.2" y="1.8" width="1" height="1.8" fill="#c0c0c0"/><rect x="131.2" y="1.8" width="2.2" height="1.2" fill="#e0e0e0"/><rect x="132.1" y="1.8" width="1.2" height="1" fill="#fff"/><rect x="135.1" y="1.7" width="2.2" height="1" fill="#e0e0e0"/><rect x="135.9" y="2.1" width="1.8" height="1" fill="#fff"/><rect x="167.9" y="2.0" width="1" height="1.2" fill="#c0c0c0"/><rect x="172.8" y="1.8" width="2.2" height="1.5" fill="#e0e0e0"/><rect x="180.7" y="2.0" width="1" height="1.5" fill="#c0c0c0"/><rect x="0.1" y="3.2" width="1.5" height="1.5" fill="#fff"/><rect x="7.3" y="2.9" width="1" height="1.8" fill="#fff"/><rect x="7.9" y="2.8" width="1.5" height="1.2" fill="#fff"/><rect x="10.9" y="2.9" width="1.5" height="1.5" fill="#fff"/><rect x="12.2" y="2.9" width="1.8" height="1.8" fill="#fff"/><rect x="21.9" y="2.9" width="1.8" height="1.2" fill="#fff"/><rect x="23.0" y="2.8" width="1.2" height="1.2" fill="#fff"/><rect x="25.1" y="3.2" width="1.2" height="1.2" fill="#c0c0c0"/><rect x="29.1" y="3.3" width="1.8" height="1.8" fill="#fff"/><rect x="30.2" y="2.9" width="1.5" height="1" fill="#fff"/><rect x="32.7" y="2.9" width="1.5" height="1.8" fill="#c0c0c0"/><rect x="36.0" y="3.0" width="1" height="1.2" fill="#c0c0c0"/><rect x="36.8" y="2.8" width="1" height="1" fill="#fff"/><rect x="38.3" y="3.1" width="2.2" height="1.8" fill="#c0c0c0"/><rect x="39.8" y="2.8" width="1.8" height="1.8" fill="#c0c0c0"/><rect x="41.0" y="2.9" width="1.8" height="1.2" fill="#c0c0c0"/><rect x="42.1" y="3.2" width="2.2" height="1.8" fill="#e0e0e0"/><rect x="132.2" y="3.0" width="1.5" height="1.5" fill="#c0c0c0"/><rect x="133.2" y="3.0" width="1.5" height="1.2" fill="#c0c0c0"/><rect x="134.2" y="2.9" width="2.2" height="1" fill="#fff"/><rect x="136.1" y="2.7" width="2.2" height="1" fill="#fff"/><rect x="136.9" y="2.8" width="1" height="1.2" fill="#fff"/><rect x="140.0" y="2.9" width="1.2" height="1" fill="#fff"/><rect x="144.8" y="2.9" width="2.2" height="1" fill="#fff"/><rect x="145.8" y="3.1" width="1.2" height="1.8" fill="#c0c0c0"/><rect x="147.2" y="2.7" width="1.2" height="1.2" fill="#fff"/><rect x="155.9" y="3.0" width="2.2" height="1.8" fill="#fff"/><rect x="156.9" y="2.7" width="1.5" height="1.2" fill="#e0e0e0"/><rect x="159.8" y="3.1" width="1.5" height="1.2" fill="#c0c0c0"/><rect x="167.8" y="3.2" width="2.2" height="1" fill="#c0c0c0"/><rect x="169.7" y="3.1" width="1" height="1.8" fill="#fff"/><rect x="171.8" y="3.2" width="1.5" height="1.5" fill="#fff"/><rect x="176.2" y="3.2" width="1.5" height="1.2" fill="#fff"/><rect x="183.0" y="3.2" width="1" height="1.5" fill="#fff"/><rect x="1.0" y="4.3" width="1.5" height="1" fill="#c0c0c0"/><rect x="2.8" y="4.2" width="1.5" height="1" fill="#e0e0e0"/><rect x="5.2" y="3.9" width="1.8" height="1.8" fill="#fff"/><rect x="7.1" y="4.0" width="1.2" height="1.8" fill="#c0c0c0"/><rect x="10.0" y="3.8" width="1.2" height="1.5" fill="#fff"/><rect x="11.8" y="4.1" width="1.8" height="1.8" fill="#fff"/><rect x="15.8" y="4.1" width="1.8" height="1.2" fill="#fff"/><rect x="18.9" y="3.8" width="1.5" height="1.5" fill="#fff"/><rect x="21.9" y="4.0" width="1.8" height="1.8" fill="#fff"/><rect x="28.7" y="3.9" width="1.5" height="1.2" fill="#c0c0c0"/><rect x="30.2" y="4.3" width="1.5" height="1.5" fill="#e0e0e0"/><rect x="33.2" y="3.8" width="2.2" height="1.8" fill="#fff"/><rect x="35.7" y="4.1" width="1.8" height="1.8" fill="#fff"/><rect x="37.8" y="3.9" width="2.2" height="1.8" fill="#fff"/><rect x="43.0" y="3.9" width="1" height="1.5" fill="#c0c0c0"/><rect x="134.9" y="3.8" width="1.8" height="1.8" fill="#e0e0e0"/><rect x="139.3" y="3.7" width="1" height="1.2" fill="#fff"/><rect x="142.9" y="3.9" width="1.2" height="1.5" fill="#fff"/><rect x="147.3" y="4.1" width="2.2" height="1.5" fill="#fff"/><rect x="148.7" y="3.9" width="1.5" height="1.5" fill="#fff"/><rect x="155.0" y="4.3" width="2.2" height="1.5" fill="#fff"/><rect x="155.8" y="3.8" width="1" height="1.5" fill="#fff"/><rect x="163.3" y="3.8" width="1.8" height="1" fill="#fff"/><rect x="177.1" y="4.2" width="1" height="1.5" fill="#e0e0e0"/><rect x="0.3" y="4.8" width="1.2" height="1.5" fill="#fff"/><rect x="1.2" y="5.2" width="1.2" height="1.5" fill="#fff"/><rect x="7.2" y="5.1" width="1" height="1" fill="#fff"/><rect x="9.9" y="5.2" width="1.8" height="1.2" fill="#c0c0c0"/><rect x="14.3" y="4.9" width="1.2" height="1" fill="#fff"/><rect x="16.3" y="4.8" width="2.2" height="1.5" fill="#fff"/><rect x="24.8" y="4.8" width="2.2" height="1" fill="#fff"/><rect x="31.2" y="4.9" width="2.2" height="1.5" fill="#c0c0c0"/><rect x="32.1" y="5.2" width="2.2" height="1.2" fill="#c0c0c0"/><rect x="35.0" y="5.3" width="2.2" height="1.5" fill="#c0c0c0"/><rect x="42.9" y="5.1" width="1.5" height="1.8" fill="#fff"/><rect x="137.0" y="5.1" width="1.5" height="1" fill="#fff"/><rect x="140.0" y="5.3" width="1.8" height="1.5" fill="#fff"/><rect x="141.1" y="5.0" width="1.2" height="1.8" fill="#fff"/><rect x="143.8" y="4.7" width="1.2" height="1.5" fill="#fff"/><rect x="145.9" y="4.9" width="1.5" height="1" fill="#c0c0c0"/><rect x="147.0" y="5.1" width="1.2" height="1.8" fill="#e0e0e0"/><rect x="153.8" y="4.8" width="1.5" height="1" fill="#fff"/><rect x="156.9" y="4.8" width="1.2" height="1.2" fill="#fff"/><rect x="159.8" y="5.2" width="1.5" height="1" fill="#e0e0e0"/><rect x="165.1" y="5.3" width="2.2" height="1.2" fill="#fff"/><rect x="167.9" y="4.9" width="1.2" height="1.2" fill="#c0c0c0"/><rect x="175.2" y="5.2" width="1.5" height="1.2" fill="#e0e0e0"/><rect x="176.1" y="5.1" width="1.5" height="1" fill="#e0e0e0"/><rect x="180.0" y="5.3" width="1.5" height="1.2" fill="#fff"/><rect x="0.2" y="5.9" width="1.5" height="1.8" fill="#fff"/><rect x="0.7" y="6.0" width="1" height="1.8" fill="#e0e0e0"/><rect x="1.9" y="5.9" width="2.2" height="1.2" fill="#fff"/><rect x="6.7" y="6.2" width="1.5" height="1.5" fill="#fff"/><rect x="11.8" y="6.0" width="1.2" height="1" fill="#fff"/><rect x="20.9" y="6.3" width="1" height="1.8" fill="#e0e0e0"/><rect x="21.9" y="6.0" width="2.2" height="1.8" fill="#fff"/><rect x="23.3" y="6.0" width="1.5" height="1.2" fill="#fff"/><rect x="24.1" y="6.0" width="1.8" height="1.2" fill="#c0c0c0"/><rect x="29.1" y="6.1" width="1.2" height="1.8" fill="#fff"/><rect x="30.2" y="5.9" width="2.2" height="1" fill="#fff"/><rect x="37.2" y="6.0" width="2.2" height="1.8" fill="#c0c0c0"/><rect x="44.9" y="6.3" width="1.2" height="1" fill="#c0c0c0"/><rect x="160.2" y="5.8" width="2.2" height="1.2" fill="#c0c0c0"/><rect x="162.2" y="6.2" width="1" height="1" fill="#c0c0c0"/><rect x="169.3" y="6.1" width="2.2" height="1.5" fill="#fff"/><rect x="177.7" y="5.7" width="1" height="1.2" fill="#e0e0e0"/><rect x="179.9" y="5.9" width="1.5" height="1.5" fill="#fff"/><rect x="3.2" y="7.0" width="1.5" height="1.8" fill="#fff"/><rect x="10.1" y="7.3" width="1.8" height="1.2" fill="#fff"/><rect x="11.7" y="7.1" width="1.5" height="1.2" fill="#fff"/><rect x="13.7" y="6.7" width="1.5" height="1" fill="#fff"/><rect x="17.9" y="7.1" width="1" height="1.8" fill="#fff"/><rect x="20.2" y="6.8" width="1.5" height="1.5" fill="#fff"/><rect x="21.1" y="7.2" width="1" height="1.2" fill="#c0c0c0"/><rect x="21.9" y="6.9" width="1.8" height="1" fill="#fff"/><rect x="23.8" y="6.7" width="1.2" height="1.5" fill="#fff"/><rect x="26.1" y="6.9" width="1" height="1.2" fill="#fff"/><rect x="27.8" y="6.8" width="1.8" height="1.5" fill="#fff"/><rect x="40.0" y="6.8" width="1.5" height="1.2" fill="#fff"/><rect x="42.0" y="7.1" width="1.8" height="1.5" fill="#fff"/><rect x="144.0" y="6.9" width="1" height="1.5" fill="#fff"/><rect x="144.9" y="6.7" width="1.5" height="1.2" fill="#fff"/><rect x="145.9" y="7.0" width="2.2" height="1" fill="#fff"/><rect x="147.7" y="6.9" width="1.8" height="1" fill="#fff"/><rect x="161.9" y="7.1" width="2.2" height="1.5" fill="#fff"/><rect x="167.0" y="6.9" width="1" height="1.8" fill="#e0e0e0"/><rect x="173.1" y="6.9" width="2.2" height="1.2" fill="#fff"/><rect x="176.8" y="7.3" width="1.5" height="1.2" fill="#c0c0c0"/><rect x="177.8" y="6.7" width="2.2" height="1.8" fill="#fff"/><rect x="181.0" y="7.0" width="1.8" height="1.8" fill="#fff"/><rect x="20.1" y="8.1" width="2.2" height="1.8" fill="#fff"/><rect x="25.1" y="8.0" width="1.8" height="1.8" fill="#fff"/><rect x="29.2" y="8.0" width="2.2" height="1" fill="#e0e0e0"/><rect x="34.0" y="7.7" width="1" height="1.2" fill="#c0c0c0"/><rect x="41.0" y="8.2" width="1.2" height="1.8" fill="#c0c0c0"/><rect x="42.2" y="7.8" width="2.2" height="1" fill="#c0c0c0"/><rect x="145.2" y="8.0" width="1.2" height="1.8" fill="#fff"/><rect x="147.2" y="8.0" width="1.5" height="1.8" fill="#fff"/><rect x="153.9" y="8.1" width="2.2" height="1.8" fill="#fff"/><rect x="158.0" y="8.1" width="2.2" height="1.2" fill="#fff"/><rect x="178.2" y="7.9" width="1.2" height="1.8" fill="#fff"/><rect x="182.2" y="8.0" width="1.8" height="1.5" fill="#fff"/><rect x="0.9" y="8.8" width="1.8" height="1.8" fill="#e0e0e0"/><rect x="2.3" y="9.0" width="1.8" height="1.5" fill="#fff"/><rect x="10.8" y="8.8" width="1.5" height="1.2" fill="#c0c0c0"/><rect x="12.8" y="9.0" width="1.2" height="1" fill="#fff"/><rect x="15.1" y="8.7" width="1.8" height="1" fill="#fff"/><rect x="15.9" y="9.0" width="1.8" height="1.5" fill="#c0c0c0"/><rect x="20.9" y="9.3" width="2.2" height="1.8" fill="#fff"/><rect x="23.0" y="9.2" width="1" height="1" fill="#e0e0e0"/><rect x="24.1" y="9.1" width="1.5" height="1.2" fill="#fff"/><rect x="25.8" y="8.8" width="1" height="1.2" fill="#fff"/><rect x="27.9" y="9.0" width="1" height="1.2" fill="#e0e0e0"/><rect x="28.8" y="9.3" width="1.5" height="1.2" fill="#fff"/><rect x="35.2" y="8.9" width="1.5" height="1" fill="#c0c0c0"/><rect x="152.0" y="9.3" width="1" height="1.5" fill="#e0e0e0"/><rect x="154.2" y="9.1" width="1" height="1.2" fill="#fff"/><rect x="163.8" y="8.8" width="1.5" height="1.2" fill="#e0e0e0"/><rect x="168.3" y="9.2" width="1.8" height="1.2" fill="#fff"/><rect x="170.0" y="8.8" width="1.2" height="1.2" fill="#fff"/><rect x="179.0" y="8.8" width="1" height="1" fill="#c0c0c0"/><rect x="1.1" y="10.1" width="1.5" height="1" fill="#fff"/><rect x="1.7" y="10.1" width="1.5" height="1.5" fill="#fff"/><rect x="6.1" y="9.8" width="2.2" height="1.8" fill="#c0c0c0"/><rect x="9.2" y="10.3" width="1.5" height="1.2" fill="#fff"/><rect x="12.0" y="10.0" width="1.5" height="1.8" fill="#fff"/><rect x="17.9" y="9.9" width="1.5" height="1.8" fill="#c0c0c0"/><rect x="19.7" y="10.2" width="1.2" height="1.2" fill="#fff"/><rect x="23.1" y="10.3" width="1" height="1.2" fill="#e0e0e0"/><rect x="25.1" y="10.0" width="1" height="1.2" fill="#c0c0c0"/><rect x="33.8" y="9.9" width="1" height="1" fill="#c0c0c0"/><rect x="35.2" y="9.7" width="1" height="1.5" fill="#fff"/><rect x="36.2" y="9.9" width="1" height="1.5" fill="#e0e0e0"/><rect x="147.8" y="10.0" width="1" height="1.2" fill="#c0c0c0"/><rect x="158.7" y="10.0" width="1" height="1" fill="#c0c0c0"/><rect x="166.3" y="9.9" width="1.5" height="1.5" fill="#fff"/><rect x="171.2" y="9.8" width="1.8" height="1.5" fill="#fff"/><rect x="173.2" y="10.1" width="1" height="1.2" fill="#e0e0e0"/><rect x="173.7" y="10.0" width="1.8" height="1.8" fill="#c0c0c0"/><rect x="179.9" y="9.7" width="1" height="1.8" fill="#e0e0e0"/><rect x="182.1" y="10.0" width="1.8" height="1.5" fill="#e0e0e0"/><rect x="9.0" y="11.3" width="1.8" height="1.2" fill="#c0c0c0"/><rect x="24.1" y="10.9" width="1.8" height="1.2" fill="#fff"/><rect x="27.0" y="11.2" width="1.2" height="1.5" fill="#fff"/><rect x="28.9" y="11.2" width="1.8" height="1.5" fill="#fff"/><rect x="147.8" y="11.2" width="1" height="1.5" fill="#fff"/><rect x="156.0" y="11.3" width="1.5" height="1" fill="#fff"/><rect x="166.2" y="10.9" width="1.2" height="1.8" fill="#c0c0c0"/><rect x="167.7" y="10.9" width="1.2" height="1.2" fill="#fff"/><rect x="171.8" y="11.2" width="1.8" height="1.8" fill="#fff"/><rect x="177.1" y="10.9" width="1" height="1" fill="#fff"/><rect x="184.1" y="11.1" width="1.8" height="1.8" fill="#c0c0c0"/><rect x="1.9" y="12.0" width="1.2" height="1.2" fill="#fff"/><rect x="10.9" y="11.8" width="1.5" height="1" fill="#c0c0c0"/><rect x="13.8" y="11.7" width="1" height="1.8" fill="#e0e0e0"/><rect x="18.0" y="12.0" width="2.2" height="1.2" fill="#fff"/><rect x="19.3" y="11.8" width="1" height="1" fill="#fff"/><rect x="23.2" y="12.0" width="1.8" height="1.8" fill="#fff"/><rect x="26.3" y="11.8" width="1" height="1.8" fill="#e0e0e0"/><rect x="31.2" y="11.8" width="1.8" height="1.8" fill="#e0e0e0"/><rect x="149.9" y="12.3" width="2.2" height="1" fill="#fff"/><rect x="151.3" y="11.8" width="1.8" height="1" fill="#fff"/><rect x="161.0" y="12.3" width="1.8" height="1.2" fill="#fff"/><rect x="163.7" y="11.8" width="2.2" height="1.8" fill="#fff"/><rect x="0.8" y="13.2" width="1" height="1.8" fill="#c0c0c0"/><rect x="2.3" y="12.9" width="2.2" height="1" fill="#fff"/><rect x="4.3" y="12.9" width="2.2" height="1.5" fill="#c0c0c0"/><rect x="7.7" y="12.9" width="1" height="1" fill="#fff"/><rect x="13.0" y="12.8" width="2.2" height="1.5" fill="#c0c0c0"/><rect x="16.0" y="13.2" width="1" height="1" fill="#fff"/><rect x="22.1" y="13.3" width="1.5" height="1.5" fill="#fff"/><rect x="22.7" y="12.9" width="1" height="1.8" fill="#fff"/><rect x="24.3" y="13.1" width="1.2" height="1.2" fill="#fff"/><rect x="25.9" y="13.0" width="1.8" height="1.8" fill="#fff"/><rect x="26.9" y="13.2" width="1" height="1" fill="#e0e0e0"/><rect x="28.0" y="13.0" width="1.2" height="1.5" fill="#fff"/><rect x="30.3" y="12.9" width="1.8" height="1.8" fill="#fff"/><rect x="31.3" y="12.9" width="2.2" height="1.2" fill="#fff"/><rect x="152.3" y="13.2" width="1.5" height="1.2" fill="#c0c0c0"/><rect x="155.3" y="13.1" width="2.2" height="1" fill="#fff"/><rect x="166.9" y="12.8" width="2.2" height="1" fill="#fff"/><rect x="174.2" y="12.9" width="1.2" height="1" fill="#fff"/><rect x="178.0" y="13.3" width="1.2" height="1.8" fill="#fff"/><rect x="183.2" y="13.2" width="1.2" height="1.2" fill="#c0c0c0"/><rect x="2.2" y="13.9" width="1.5" height="1" fill="#fff"/><rect x="5.0" y="14.0" width="2.2" height="1.5" fill="#fff"/><rect x="5.9" y="14.3" width="1.5" height="1.8" fill="#fff"/><rect x="6.8" y="13.9" width="1" height="1.2" fill="#fff"/><rect x="10.0" y="14.2" width="1.5" height="1.8" fill="#fff"/><rect x="11.2" y="14.0" width="1" height="1.8" fill="#fff"/><rect x="12.7" y="13.8" width="1.8" height="1.5" fill="#fff"/><rect x="17.1" y="13.8" width="1" height="1.2" fill="#fff"/><rect x="18.1" y="14.0" width="1.5" height="1.5" fill="#fff"/><rect x="20.8" y="14.1" width="1.2" height="1" fill="#fff"/><rect x="22.8" y="14.3" width="1.5" height="1.2" fill="#c0c0c0"/><rect x="24.3" y="14.2" width="1.2" height="1.8" fill="#c0c0c0"/><rect x="25.0" y="13.8" width="1" height="1" fill="#fff"/><rect x="26.9" y="14.0" width="1.2" height="1" fill="#c0c0c0"/><rect x="31.0" y="13.7" width="2.2" height="1.5" fill="#fff"/><rect x="150.0" y="14.2" width="1.8" height="1.2" fill="#fff"/><rect x="151.0" y="14.0" width="1.8" height="1.5" fill="#fff"/><rect x="156.8" y="13.9" width="1.8" height="1.2" fill="#fff"/><rect x="174.2" y="13.8" width="1.8" height="1.8" fill="#c0c0c0"/><rect x="179.3" y="14.3" width="1.2" height="1" fill="#c0c0c0"/><rect x="2.2" y="15.1" width="1" height="1.2" fill="#fff"/><rect x="3.0" y="14.9" width="1.8" height="1.2" fill="#e0e0e0"/><rect x="4.8" y="15.1" width="1" height="1.8" fill="#fff"/><rect x="12.8" y="15.0" width="1" height="1.2" fill="#fff"/><rect x="15.1" y="15.0" width="1.8" height="1" fill="#fff"/><rect x="16.2" y="15.0" width="1.8" height="1" fill="#c0c0c0"/><rect x="27.8" y="15.2" width="2.2" height="1.2" fill="#fff"/><rect x="150.1" y="15.0" width="1.2" height="1.8" fill="#fff"/><rect x="151.8" y="15.2" width="1.5" height="1" fill="#c0c0c0"/><rect x="161.3" y="14.9" width="2.2" height="1.8" fill="#fff"/><rect x="169.0" y="15.3" width="1" height="1" fill="#c0c0c0"/><rect x="170.9" y="15.2" width="1" height="1" fill="#fff"/><rect x="4.1" y="16.3" width="1.5" height="1.8" fill="#c0c0c0"/><rect x="8.8" y="15.9" width="1.2" height="1.5" fill="#fff"/><rect x="14.2" y="16.2" width="1.8" height="1.2" fill="#fff"/><rect x="19.2" y="16.1" width="1.2" height="1" fill="#fff"/><rect x="20.2" y="16.1" width="1.2" height="1" fill="#fff"/><rect x="20.9" y="16.3" width="1.2" height="1" fill="#e0e0e0"/><rect x="27.1" y="15.8" width="1" height="1.8" fill="#fff"/><rect x="153.9" y="16.3" width="1.5" height="1" fill="#fff"/><rect x="158.1" y="16.0" width="1.5" height="1.2" fill="#fff"/><rect x="171.0" y="15.8" width="1.5" height="1.2" fill="#fff"/><rect x="178.1" y="15.8" width="1.5" height="1.2" fill="#fff"/><rect x="182.1" y="16.1" width="2.2" height="1.5" fill="#fff"/><rect x="-0.3" y="16.8" width="2.2" height="1.5" fill="#c0c0c0"/><rect x="6.0" y="16.8" width="1.5" height="1.8" fill="#e0e0e0"/><rect x="7.9" y="17.1" width="1.5" height="1.5" fill="#e0e0e0"/><rect x="8.9" y="17.1" width="1.2" height="1.8" fill="#e0e0e0"/><rect x="10.9" y="17.1" width="1.2" height="1" fill="#fff"/><rect x="14.1" y="17.0" width="1.2" height="1.5" fill="#fff"/><rect x="14.8" y="17.0" width="2.2" height="1.5" fill="#fff"/><rect x="25.8" y="16.8" width="1.8" height="1.5" fill="#c0c0c0"/><rect x="27.1" y="17.2" width="1" height="1" fill="#fff"/><rect x="28.0" y="17.0" width="1.2" height="1.5" fill="#e0e0e0"/><rect x="156.8" y="16.9" width="1.5" height="1.8" fill="#c0c0c0"/><rect x="162.0" y="16.9" width="2.2" height="1" fill="#fff"/><rect x="170.2" y="16.8" width="2.2" height="1" fill="#fff"/><rect x="171.1" y="17.2" width="1.5" height="1.2" fill="#e0e0e0"/><rect x="171.8" y="16.7" width="1.2" height="1.5" fill="#e0e0e0"/><rect x="176.3" y="17.2" width="2.2" height="1.5" fill="#c0c0c0"/><rect x="176.7" y="17.3" width="1.8" height="1.2" fill="#c0c0c0"/><rect x="180.7" y="16.8" width="1.2" height="1.5" fill="#fff"/><rect x="0.3" y="17.9" width="1.5" height="1" fill="#fff"/><rect x="5.8" y="17.8" width="2.2" height="1" fill="#fff"/><rect x="8.1" y="18.0" width="1.8" height="1.5" fill="#c0c0c0"/><rect x="13.9" y="18.3" width="1.8" height="1.8" fill="#fff"/><rect x="17.1" y="18.0" width="1.2" height="1" fill="#e0e0e0"/><rect x="21.7" y="18.2" width="1" height="1.5" fill="#fff"/><rect x="23.2" y="18.0" width="1.2" height="1.5" fill="#e0e0e0"/><rect x="152.9" y="17.8" width="1.5" height="1.5" fill="#fff"/><rect x="181.0" y="18.0" width="1" height="1" fill="#e0e0e0"/><rect x="-0.2" y="18.9" width="1.5" height="1.2" fill="#fff"/><rect x="2.3" y="19.0" width="1" height="1" fill="#e0e0e0"/><rect x="5.0" y="19.0" width="1" height="1.8" fill="#fff"/><rect x="8.0" y="18.9" width="1.2" height="1.2" fill="#c0c0c0"/><rect x="11.8" y="18.8" width="1.8" height="1" fill="#e0e0e0"/><rect x="13.9" y="19.1" width="1.5" height="1" fill="#c0c0c0"/><rect x="15.0" y="18.8" width="1" height="1.2" fill="#fff"/><rect x="15.7" y="19.0" width="1.5" height="1.8" fill="#fff"/><rect x="18.0" y="18.9" width="2.2" height="1" fill="#e0e0e0"/><rect x="18.9" y="19.3" width="1.5" height="1.8" fill="#c0c0c0"/><rect x="20.9" y="19.2" width="1.2" height="1.2" fill="#fff"/><rect x="164.7" y="19.1" width="2.2" height="1.5" fill="#c0c0c0"/><rect x="165.7" y="19.1" width="1.5" height="1.5" fill="#c0c0c0"/><rect x="168.8" y="19.2" width="2.2" height="1.8" fill="#c0c0c0"/><rect x="174.0" y="19.0" width="1.5" height="1.5" fill="#fff"/><rect x="174.8" y="19.2" width="1.8" height="1.5" fill="#fff"/><rect x="179.9" y="18.8" width="1.5" height="1.2" fill="#c0c0c0"/><rect x="183.1" y="19.2" width="1.8" height="1" fill="#fff"/><rect x="17.0" y="19.9" width="1.2" height="1.2" fill="#fff"/><rect x="18.8" y="20.3" width="2.2" height="1.8" fill="#fff"/><rect x="158.9" y="19.8" width="1.8" height="1.2" fill="#c0c0c0"/><rect x="159.8" y="20.0" width="2.2" height="1.5" fill="#fff"/><rect x="163.1" y="20.2" width="1.8" height="1.8" fill="#fff"/><rect x="172.7" y="19.9" width="1.8" height="1.8" fill="#e0e0e0"/><rect x="180.8" y="19.8" width="2.2" height="1.5" fill="#fff"/><rect x="1.0" y="21.1" width="1" height="1" fill="#e0e0e0"/><rect x="3.2" y="20.7" width="1.5" height="1.5" fill="#fff"/><rect x="10.9" y="21.1" width="1" height="1.5" fill="#e0e0e0"/><rect x="12.8" y="20.7" width="1" height="1.5" fill="#c0c0c0"/><rect x="15.8" y="21.1" width="1.2" height="1.8" fill="#c0c0c0"/><rect x="16.9" y="21.0" width="1.2" height="1" fill="#c0c0c0"/><rect x="20.9" y="21.1" width="1" height="1.8" fill="#fff"/><rect x="157.9" y="20.9" width="1.2" height="1.8" fill="#e0e0e0"/><rect x="167.7" y="20.8" width="1.2" height="1.2" fill="#c0c0c0"/><rect x="178.3" y="21.1" width="2.2" height="1.2" fill="#fff"/><rect x="180.7" y="20.8" width="2.2" height="1.2" fill="#c0c0c0"/><rect x="2.8" y="21.8" width="2.2" height="1" fill="#fff"/><rect x="8.2" y="22.2" width="1" height="1" fill="#fff"/><rect x="10.1" y="22.0" width="1.2" height="1" fill="#c0c0c0"/><rect x="12.0" y="22.2" width="1.5" height="1.2" fill="#c0c0c0"/><rect x="12.7" y="22.0" width="1.2" height="1" fill="#e0e0e0"/><rect x="15.2" y="21.7" width="1.2" height="1.5" fill="#fff"/><rect x="15.7" y="21.8" width="1" height="1.2" fill="#fff"/><rect x="170.7" y="21.8" width="2.2" height="1.5" fill="#fff"/><rect x="175.9" y="22.3" width="1.8" height="1.2" fill="#fff"/><rect x="176.9" y="21.8" width="1.8" height="1.2" fill="#e0e0e0"/><rect x="178.2" y="22.3" width="2.2" height="1.2" fill="#fff"/><rect x="179.9" y="22.3" width="1.5" height="1" fill="#fff"/><rect x="2.9" y="23.1" width="1" height="1.5" fill="#fff"/><rect x="5.9" y="23.2" width="1" height="1.5" fill="#fff"/><rect x="11.8" y="23.3" width="1.2" height="1" fill="#c0c0c0"/><rect x="16.2" y="22.7" width="1.8" height="1.2" fill="#e0e0e0"/><rect x="17.0" y="22.9" width="1.8" height="1.5" fill="#c0c0c0"/><rect x="17.7" y="22.9" width="2.2" height="1.2" fill="#fff"/><rect x="156.7" y="23.0" width="1.2" height="1.2" fill="#c0c0c0"/><rect x="163.8" y="22.9" width="1.8" height="1" fill="#fff"/><rect x="165.7" y="23.0" width="1.2" height="1" fill="#fff"/><rect x="172.8" y="23.0" width="1" height="1.2" fill="#fff"/><rect x="174.9" y="23.1" width="1" height="1" fill="#fff"/><rect x="183.0" y="22.9" width="1.2" height="1.5" fill="#fff"/><rect x="184.0" y="23.1" width="1" height="1" fill="#c0c0c0"/><rect x="21.1" y="24.2" width="1.5" height="1.5" fill="#c0c0c0"/><rect x="164.2" y="24.2" width="1.2" height="1.8" fill="#c0c0c0"/><rect x="167.2" y="23.8" width="1.5" height="1.5" fill="#fff"/><rect x="169.0" y="24.0" width="1" height="1.8" fill="#c0c0c0"/><rect x="171.1" y="24.1" width="2.2" height="1.2" fill="#fff"/><rect x="172.0" y="24.0" width="1.2" height="1" fill="#fff"/><rect x="175.1" y="23.8" width="1.5" height="1.8" fill="#fff"/><rect x="180.1" y="24.0" width="2.2" height="1.8" fill="#fff"/><rect x="7.0" y="25.0" width="1" height="1" fill="#fff"/><rect x="13.9" y="24.9" width="1.2" height="1" fill="#c0c0c0"/><rect x="16.7" y="25.2" width="2.2" height="1.2" fill="#fff"/><rect x="20.3" y="25.1" width="1" height="1" fill="#c0c0c0"/><rect x="171.2" y="25.2" width="1.5" height="1.5" fill="#fff"/><rect x="174.0" y="25.3" width="1.8" height="1" fill="#e0e0e0"/><rect x="174.8" y="24.8" width="1.2" height="1.2" fill="#fff"/><rect x="176.9" y="25.1" width="1" height="1.5" fill="#fff"/><rect x="178.0" y="24.8" width="1.2" height="1.8" fill="#fff"/><rect x="183.2" y="25.0" width="1.2" height="1.8" fill="#fff"/><rect x="-0.0" y="26.0" width="1" height="1" fill="#e0e0e0"/><rect x="0.9" y="26.1" width="1.5" height="1.8" fill="#fff"/><rect x="3.8" y="25.7" width="1.8" height="1.8" fill="#fff"/><rect x="6.2" y="26.1" width="2.2" height="1.5" fill="#fff"/><rect x="7.9" y="26.0" width="1.5" height="1.8" fill="#c0c0c0"/><rect x="9.1" y="25.8" width="1.8" height="1" fill="#fff"/><rect x="11.9" y="25.7" width="1.2" height="1.2" fill="#fff"/><rect x="15.0" y="26.0" width="1.5" height="1.5" fill="#fff"/><rect x="16.1" y="26.1" width="1.5" height="1" fill="#e0e0e0"/><rect x="17.8" y="26.2" width="1.8" height="1.5" fill="#fff"/><rect x="160.0" y="26.2" width="1.2" height="1.8" fill="#c0c0c0"/><rect x="166.9" y="26.0" width="1.5" height="1.8" fill="#e0e0e0"/><rect x="169.3" y="25.9" width="1" height="1" fill="#c0c0c0"/><rect x="169.8" y="26.3" width="1.5" height="1" fill="#fff"/><rect x="176.2" y="25.8" width="1.5" height="1.8" fill="#e0e0e0"/><rect x="0.8" y="26.9" width="1" height="1" fill="#fff"/><rect x="3.3" y="26.8" width="1.5" height="1" fill="#fff"/><rect x="8.0" y="27.0" width="2.2" height="1" fill="#fff"/><rect x="8.8" y="26.9" width="1.2" height="1.5" fill="#fff"/><rect x="10.7" y="26.9" width="1.5" height="1.5" fill="#fff"/><rect x="14.0" y="26.8" width="2.2" height="1.8" fill="#e0e0e0"/><rect x="160.1" y="26.8" width="1.5" height="1" fill="#fff"/><rect x="161.9" y="26.8" width="1.5" height="1.5" fill="#fff"/><rect x="170.7" y="27.1" width="1.5" height="1.5" fill="#e0e0e0"/><rect x="173.2" y="26.8" width="1" height="1.8" fill="#fff"/><rect x="181.2" y="26.8" width="2.2" height="1.8" fill="#fff"/><rect x="2.9" y="27.7" width="2.2" height="1.2" fill="#fff"/><rect x="6.0" y="27.7" width="1.2" height="1.8" fill="#fff"/><rect x="6.8" y="27.9" width="1.8" height="1.8" fill="#e0e0e0"/><rect x="10.8" y="28.1" width="1.8" height="1.8" fill="#e0e0e0"/><rect x="15.2" y="28.3" width="1.5" height="1.2" fill="#fff"/><rect x="15.9" y="28.0" width="1.8" height="1.2" fill="#fff"/><rect x="18.0" y="27.9" width="1.5" height="1" fill="#c0c0c0"/><rect x="161.3" y="27.8" width="1.5" height="1.5" fill="#fff"/><rect x="163.8" y="28.2" width="2.2" height="1.5" fill="#c0c0c0"/><rect x="181.2" y="28.1" width="1.8" height="1.2" fill="#fff"/><rect x="184.0" y="28.1" width="1.2" height="1.8" fill="#fff"/><rect x="1.9" y="29.2" width="2.2" height="1.5" fill="#e0e0e0"/><rect x="6.7" y="28.8" width="1.5" height="1.8" fill="#fff"/><rect x="10.0" y="29.0" width="1.2" height="1.2" fill="#fff"/><rect x="11.8" y="29.0" width="1" height="1.5" fill="#e0e0e0"/><rect x="15.9" y="28.8" width="1" height="1.8" fill="#e0e0e0"/><rect x="183.1" y="28.9" width="1.2" height="1.5" fill="#fff"/><rect x="1.1" y="30.1" width="1.2" height="1.8" fill="#fff"/><rect x="4.2" y="29.9" width="1.5" height="1.8" fill="#c0c0c0"/><rect x="7.1" y="30.3" width="1.5" height="1.2" fill="#fff"/><rect x="7.8" y="30.2" width="1.5" height="1.5" fill="#e0e0e0"/><rect x="183.2" y="30.2" width="1.8" height="1.5" fill="#fff"/><rect x="8.1" y="30.8" width="1" height="1.2" fill="#fff"/><rect x="168.1" y="30.8" width="1" height="1.2" fill="#fff"/><rect x="174.2" y="30.8" width="1" height="1" fill="#fff"/><rect x="179.3" y="31.0" width="1.5" height="1.5" fill="#fff"/><rect x="181.3" y="31.1" width="1" height="1.2" fill="#fff"/><rect x="-0.1" y="32.2" width="1.8" height="1.8" fill="#fff"/><rect x="167.2" y="31.8" width="1" height="1.5" fill="#fff"/><rect x="176.9" y="31.9" width="1.8" height="1.5" fill="#fff"/><rect x="0.8" y="33.0" width="2.2" height="1.8" fill="#fff"/><rect x="3.2" y="33.1" width="1.5" height="1.5" fill="#e0e0e0"/><rect x="165.8" y="32.9" width="1" height="1" fill="#c0c0c0"/><rect x="167.1" y="32.9" width="1.2" height="1.2" fill="#e0e0e0"/><rect x="175.8" y="33.3" width="1.2" height="1.5" fill="#fff"/><rect x="1.7" y="33.9" width="1.8" height="1.5" fill="#e0e0e0"/><rect x="4.0" y="33.8" width="1" height="1.5" fill="#c0c0c0"/><rect x="4.8" y="33.8" width="1.2" height="1.2" fill="#fff"/><rect x="7.0" y="34.0" width="1" height="1.8" fill="#fff"/><rect x="7.7" y="34.3" width="1.8" height="1.5" fill="#e0e0e0"/><rect x="9.1" y="33.8" width="1.5" height="1.5" fill="#c0c0c0"/><rect x="164.9" y="33.9" width="2.2" height="1" fill="#c0c0c0"/><rect x="168.1" y="33.8" width="1" height="1.2" fill="#fff"/><rect x="169.8" y="34.0" width="1.2" height="1.8" fill="#fff"/><rect x="173.7" y="34.3" width="1.5" height="1" fill="#e0e0e0"/><rect x="181.9" y="34.0" width="1" height="1.8" fill="#fff"/><rect x="3.0" y="35.1" width="1.2" height="1.8" fill="#fff"/><rect x="5.2" y="35.1" width="1.2" height="1.2" fill="#fff"/><rect x="6.1" y="35.2" width="1.5" height="1" fill="#c0c0c0"/><rect x="7.9" y="35.0" width="2.2" height="1.8" fill="#c0c0c0"/><rect x="165.2" y="34.7" width="1" height="1.2" fill="#fff"/><rect x="167.0" y="34.9" width="1" height="1.5" fill="#e0e0e0"/><rect x="174.8" y="35.2" width="1.5" height="1.5" fill="#e0e0e0"/><rect x="183.0" y="34.8" width="2.2" height="1.5" fill="#e0e0e0"/><rect x="5.7" y="36.1" width="1.8" height="1.8" fill="#c0c0c0"/><rect x="11.8" y="36.0" width="2.2" height="1.2" fill="#fff"/><rect x="168.3" y="36.3" width="1.5" height="1.8" fill="#fff"/><rect x="171.0" y="35.7" width="1.8" height="1.2" fill="#e0e0e0"/><rect x="177.8" y="36.3" width="1.2" height="1" fill="#fff"/><rect x="9.7" y="37.1" width="1" height="1.2" fill="#fff"/><rect x="166.1" y="37.2" width="1.8" height="1" fill="#e0e0e0"/><rect x="173.9" y="36.8" width="1.8" height="1.8" fill="#fff"/><rect x="175.1" y="37.1" width="1.5" height="1" fill="#e0e0e0"/><rect x="177.7" y="36.9" width="1" height="1" fill="#e0e0e0"/><rect x="182.9" y="37.1" width="1.2" height="1.5" fill="#fff"/><rect x="184.2" y="36.9" width="1.5" height="1.5" fill="#e0e0e0"/><rect x="2.8" y="38.1" width="1.5" height="1.8" fill="#fff"/><rect x="5.2" y="38.3" width="1.2" height="1.2" fill="#fff"/><rect x="6.9" y="38.2" width="1.8" height="1" fill="#fff"/><rect x="171.0" y="38.0" width="1.5" height="1.2" fill="#fff"/><rect x="172.3" y="37.9" width="2.2" height="1.5" fill="#fff"/><rect x="175.8" y="38.1" width="1.8" height="1.8" fill="#e0e0e0"/><rect x="177.7" y="38.3" width="2.2" height="1.5" fill="#e0e0e0"/><rect x="-0.2" y="39.1" width="1.2" height="1.5" fill="#fff"/><rect x="1.9" y="39.1" width="1" height="1.5" fill="#fff"/><rect x="2.9" y="39.3" width="1.2" height="1.8" fill="#fff"/><rect x="8.1" y="38.9" width="1.8" height="1" fill="#fff"/><rect x="167.7" y="39.3" width="1.2" height="1.2" fill="#e0e0e0"/><rect x="168.8" y="39.0" width="2.2" height="1.8" fill="#fff"/><rect x="173.1" y="39.1" width="1.8" height="1.2" fill="#fff"/><rect x="-0.1" y="39.9" width="1" height="1.8" fill="#e0e0e0"/><rect x="1.8" y="40.3" width="1.8" height="1.8" fill="#fff"/><rect x="172.1" y="39.9" width="1" height="1.8" fill="#fff"/><rect x="183.1" y="40.0" width="1" height="1.5" fill="#fff"/><rect x="2.7" y="41.1" width="1" height="1.8" fill="#c0c0c0"/><rect x="167.7" y="41.1" width="1.2" height="1" fill="#fff"/><rect x="171.1" y="41.0" width="1.2" height="1.2" fill="#fff"/><rect x="173.8" y="41.1" width="1" height="1.5" fill="#e0e0e0"/><rect x="175.8" y="41.2" width="2.2" height="1.2" fill="#c0c0c0"/><rect x="182.8" y="41.1" width="1.2" height="1.2" fill="#e0e0e0"/><rect x="3.2" y="42.2" width="1.8" height="1.2" fill="#e0e0e0"/><rect x="170.0" y="41.8" width="1.5" height="1.2" fill="#fff"/><rect x="174.0" y="41.7" width="1.2" height="1.8" fill="#fff"/><rect x="179.1" y="42.1" width="1.5" height="1.8" fill="#e0e0e0"/><rect x="181.7" y="42.1" width="2.2" height="1.5" fill="#e0e0e0"/><rect x="183.8" y="41.9" width="1.8" height="1" fill="#c0c0c0"/><rect x="0.2" y="42.8" width="2.2" height="1.5" fill="#c0c0c0"/><rect x="170.0" y="43.0" width="1.8" height="1.2" fill="#c0c0c0"/><rect x="170.8" y="43.0" width="1" height="1.5" fill="#fff"/><rect x="173.9" y="43.0" width="2.2" height="1.5" fill="#e0e0e0"/><rect x="178.3" y="43.2" width="1.8" height="1.5" fill="#e0e0e0"/><rect x="179.1" y="43.2" width="1.8" height="1" fill="#c0c0c0"/><rect x="170.8" y="43.9" width="1.5" height="1.2" fill="#fff"/><rect x="172.2" y="43.8" width="1.8" height="1" fill="#fff"/><rect x="178.1" y="43.8" width="1.5" height="1" fill="#fff"/><rect x="178.7" y="44.1" width="1.5" height="1.2" fill="#fff"/><rect x="1.2" y="44.8" width="1.5" height="1.5" fill="#fff"/><rect x="170.2" y="44.8" width="1.8" height="1.8" fill="#fff"/><rect x="172.9" y="44.8" width="1" height="1.8" fill="#c0c0c0"/><rect x="177.0" y="45.0" width="2.2" height="1.5" fill="#e0e0e0"/><rect x="177.7" y="44.9" width="1.8" height="1.8" fill="#e0e0e0"/><rect x="181.7" y="44.8" width="2.2" height="1" fill="#c0c0c0"/><rect x="183.9" y="45.1" width="1.8" height="1.8" fill="#fff"/><rect x="171.1" y="46.3" width="1.2" height="1.2" fill="#fff"/><rect x="174.0" y="46.0" width="1.8" height="1.5" fill="#fff"/><rect x="3.2" y="47.3" width="1" height="1.8" fill="#fff"/><rect x="172.9" y="47.3" width="1.2" height="1.2" fill="#c0c0c0"/><rect x="174.2" y="46.8" width="1.5" height="1.2" fill="#fff"/><rect x="183.3" y="46.7" width="2.2" height="1" fill="#fff"/><rect x="174.0" y="47.9" width="1.5" height="1.8" fill="#fff"/><rect x="174.8" y="47.8" width="1" height="1.5" fill="#fff"/><rect x="176.3" y="48.0" width="1.5" height="1.8" fill="#fff"/><rect x="173.1" y="49.0" width="1.2" height="1" fill="#c0c0c0"/><rect x="174.0" y="48.9" width="1.8" height="1.8" fill="#fff"/><rect x="176.1" y="49.2" width="1" height="1.8" fill="#c0c0c0"/><rect x="182.2" y="49.2" width="1.5" height="1.2" fill="#e0e0e0"/><rect x="-0.2" y="49.8" width="1.5" height="1.8" fill="#c0c0c0"/><rect x="2.7" y="49.8" width="1" height="1.5" fill="#c0c0c0"/><rect x="171.0" y="50.2" width="2.2" height="1.2" fill="#c0c0c0"/><rect x="178.2" y="49.8" width="1.2" height="1" fill="#fff"/><rect x="3.0" y="51.1" width="1" height="1.5" fill="#fff"/><rect x="172.1" y="50.9" width="2.2" height="1.8" fill="#fff"/><rect x="175.1" y="51.1" width="1.2" height="1" fill="#c0c0c0"/><rect x="179.1" y="50.7" width="1" height="1.5" fill="#e0e0e0"/><rect x="183.1" y="51.0" width="1.5" height="1" fill="#c0c0c0"/><rect x="178.7" y="51.9" width="1.5" height="1.5" fill="#e0e0e0"/><rect x="181.0" y="52.0" width="1.2" height="1.8" fill="#c0c0c0"/><rect x="173.1" y="52.8" width="1.8" height="1.8" fill="#c0c0c0"/><rect x="176.3" y="53.1" width="2.2" height="1.8" fill="#fff"/><rect x="178.0" y="52.8" width="2.2" height="1.8" fill="#c0c0c0"/><rect x="171.8" y="53.8" width="2.2" height="1.2" fill="#c0c0c0"/><rect x="172.9" y="54.0" width="1.2" height="1" fill="#fff"/><rect x="176.0" y="54.0" width="1.8" height="1" fill="#e0e0e0"/><rect x="177.7" y="53.8" width="1" height="1.8" fill="#c0c0c0"/><rect x="182.0" y="55.1" width="1.5" height="1.8" fill="#c0c0c0"/><rect x="2.8" y="55.7" width="1.8" height="1" fill="#fff"/><rect x="173.9" y="55.9" width="2.2" height="1.2" fill="#fff"/><rect x="174.8" y="56.2" width="2.2" height="1.5" fill="#fff"/><rect x="172.8" y="56.8" width="2.2" height="1" fill="#fff"/><rect x="175.8" y="57.2" width="2.2" height="1.2" fill="#e0e0e0"/><rect x="177.8" y="56.9" width="1" height="1.5" fill="#c0c0c0"/><rect x="180.2" y="56.9" width="1.5" height="1" fill="#fff"/><rect x="0.9" y="57.7" width="1.8" height="1" fill="#fff"/><rect x="1.9" y="58.0" width="1.2" height="1.8" fill="#fff"/><rect x="173.2" y="57.9" width="2.2" height="1.5" fill="#fff"/><rect x="180.0" y="59.2" width="1.2" height="1" fill="#fff"/><rect x="0.1" y="60.1" width="1.8" height="1" fill="#fff"/><rect x="0.9" y="59.8" width="1.8" height="1" fill="#e0e0e0"/><rect x="178.2" y="60.3" width="1.5" height="1.2" fill="#fff"/><rect x="172.1" y="60.8" width="1.2" height="1.5" fill="#c0c0c0"/><rect x="176.2" y="60.8" width="2.2" height="1.2" fill="#fff"/><rect x="182.8" y="61.2" width="1.8" height="1.2" fill="#e0e0e0"/><rect x="0.1" y="61.9" width="1.2" height="1" fill="#c0c0c0"/><rect x="175.1" y="61.7" width="1" height="1.2" fill="#fff"/><rect x="176.0" y="62.1" width="1" height="1.8" fill="#fff"/><rect x="179.8" y="62.2" width="1.8" height="1" fill="#fff"/><rect x="182.2" y="61.8" width="2.2" height="1.8" fill="#fff"/><rect x="1.7" y="63.2" width="1.8" height="1.2" fill="#e0e0e0"/><rect x="3.0" y="62.9" width="1.2" height="1.2" fill="#c0c0c0"/><rect x="3.9" y="63.1" width="1.5" height="1" fill="#e0e0e0"/><rect x="175.9" y="63.0" width="1" height="1" fill="#fff"/><rect x="180.2" y="64.2" width="1.8" height="1.5" fill="#c0c0c0"/><rect x="183.9" y="64.1" width="1.8" height="1" fill="#fff"/><rect x="178.1" y="64.8" width="1.5" height="1.5" fill="#fff"/><rect x="180.2" y="64.8" width="1.2" height="1.2" fill="#c0c0c0"/><rect x="180.8" y="65.2" width="1" height="1.5" fill="#e0e0e0"/><rect x="174.2" y="66.2" width="2.2" height="1.2" fill="#fff"/><rect x="179.2" y="65.9" width="1.2" height="1.8" fill="#c0c0c0"/><rect x="182.2" y="66.0" width="1.5" height="1" fill="#fff"/><rect x="173.9" y="67.1" width="1" height="1" fill="#fff"/><rect x="178.3" y="67.0" width="1.5" height="1.2" fill="#fff"/><rect x="179.2" y="66.7" width="1" height="1" fill="#fff"/><rect x="181.9" y="66.8" width="2.2" height="1.8" fill="#fff"/><rect x="183.8" y="66.7" width="1.5" height="1.5" fill="#c0c0c0"/><rect x="2.7" y="68.0" width="2.2" height="1.2" fill="#fff"/><rect x="174.0" y="68.1" width="1.8" height="1.8" fill="#fff"/><rect x="174.9" y="68.0" width="1.5" height="1.2" fill="#c0c0c0"/><rect x="181.3" y="67.9" width="1" height="1.2" fill="#e0e0e0"/><rect x="0.0" y="68.9" width="1.2" height="1.2" fill="#e0e0e0"/><rect x="176.1" y="69.0" width="2.2" height="1.8" fill="#c0c0c0"/><rect x="182.7" y="69.9" width="1.2" height="1.8" fill="#fff"/><rect x="184.1" y="70.0" width="1" height="1.8" fill="#c0c0c0"/><rect x="2.2" y="71.1" width="1.5" height="1.5" fill="#fff"/><rect x="174.2" y="70.9" width="2.2" height="1" fill="#e0e0e0"/><rect x="178.2" y="71.2" width="1.5" height="1.8" fill="#fff"/><rect x="-0.0" y="72.2" width="1.2" height="1.2" fill="#fff"/><rect x="173.8" y="71.7" width="1.8" height="1.2" fill="#fff"/><rect x="175.8" y="72.2" width="1.8" height="1.2" fill="#fff"/><rect x="181.2" y="71.8" width="1.2" height="1.2" fill="#fff"/><rect x="173.0" y="72.8" width="1" height="1.5" fill="#fff"/><rect x="174.7" y="72.8" width="1.2" height="1.8" fill="#fff"/><rect x="175.7" y="73.3" width="1.2" height="1" fill="#e0e0e0"/><rect x="178.8" y="72.7" width="1.5" height="1.8" fill="#fff"/><rect x="180.1" y="73.1" width="1.2" height="1.2" fill="#e0e0e0"/><rect x="180.9" y="72.7" width="2.2" height="1.2" fill="#e0e0e0"/><rect x="182.8" y="72.9" width="1.2" height="1.2" fill="#fff"/><rect x="183.7" y="72.7" width="1.2" height="1.8" fill="#fff"/><rect x="178.8" y="74.2" width="1.5" height="1.5" fill="#c0c0c0"/><rect x="182.9" y="73.9" width="2.2" height="1.5" fill="#fff"/><rect x="184.1" y="74.2" width="1.8" height="1" fill="#e0e0e0"/><rect x="173.8" y="75.1" width="1.8" height="1.5" fill="#c0c0c0"/><rect x="175.1" y="75.0" width="2.2" height="1.2" fill="#c0c0c0"/><rect x="174.2" y="76.0" width="1.5" height="1.2" fill="#c0c0c0"/><rect x="174.7" y="76.0" width="1.5" height="1.8" fill="#e0e0e0"/><rect x="183.1" y="76.1" width="2.2" height="1.2" fill="#fff"/><rect x="172.8" y="77.2" width="1.5" height="1.2" fill="#e0e0e0"/><rect x="174.2" y="76.8" width="2.2" height="1.8" fill="#fff"/><rect x="-0.0" y="78.0" width="1.8" height="1.5" fill="#fff"/><rect x="174.8" y="77.9" width="1.5" height="1.2" fill="#c0c0c0"/><rect x="178.0" y="77.8" width="2.2" height="1.8" fill="#fff"/><rect x="178.9" y="78.0" width="1.2" height="1" fill="#c0c0c0"/><rect x="0.1" y="80.8" width="1.2" height="1" fill="#e0e0e0"/><rect x="0.0" y="85.0" width="1" height="1.5" fill="#fff"/><rect x="2.0" y="85.0" width="1" height="1.5" fill="#e0e0e0"/><rect x="151.0" y="110.1" width="1.8" height="1.8" fill="#e0e0e0"/><rect x="163.8" y="110.2" width="1" height="1" fill="#fff"/><rect x="24.0" y="110.9" width="1.8" height="1" fill="#c0c0c0"/><rect x="-0.1" y="111.8" width="1.2" height="1" fill="#fff"/><rect x="6.8" y="112.3" width="2.2" height="1.8" fill="#c0c0c0"/><rect x="13.1" y="112.2" width="1" height="1.8" fill="#fff"/><rect x="15.8" y="111.8" width="1" height="1.8" fill="#c0c0c0"/><rect x="153.1" y="112.1" width="1" height="1.8" fill="#fff"/><rect x="167.0" y="111.7" width="2.2" height="1" fill="#e0e0e0"/><rect x="1.3" y="113.2" width="1" height="1.5" fill="#fff"/><rect x="1.8" y="112.7" width="1.2" height="1" fill="#c0c0c0"/><rect x="13.9" y="113.1" width="1.8" height="1" fill="#c0c0c0"/><rect x="154.8" y="113.0" width="1.8" height="1" fill="#e0e0e0"/><rect x="10.0" y="114.3" width="1" height="1.2" fill="#fff"/><rect x="11.8" y="114.3" width="1.5" height="1.2" fill="#e0e0e0"/><rect x="14.9" y="114.1" width="1" height="1.8" fill="#c0c0c0"/><rect x="22.3" y="113.8" width="2.2" height="1.8" fill="#e0e0e0"/><rect x="25.7" y="114.2" width="1.5" height="1.8" fill="#fff"/><rect x="159.0" y="114.2" width="1.5" height="1.5" fill="#fff"/><rect x="162.1" y="114.0" width="1.5" height="1" fill="#c0c0c0"/><rect x="7.0" y="115.3" width="1.2" height="1.8" fill="#fff"/><rect x="18.8" y="114.7" width="1.8" height="1.5" fill="#fff"/><rect x="26.8" y="114.8" width="1.2" height="1.5" fill="#fff"/><rect x="27.9" y="114.7" width="1.2" height="1" fill="#e0e0e0"/><rect x="170.1" y="114.9" width="1.8" height="1.5" fill="#e0e0e0"/><rect x="1.3" y="115.9" width="1" height="1.5" fill="#c0c0c0"/><rect x="17.2" y="116.0" width="1.5" height="1" fill="#fff"/><rect x="20.2" y="116.1" width="1.5" height="1.2" fill="#fff"/><rect x="27.2" y="116.0" width="1.5" height="1.2" fill="#fff"/><rect x="153.1" y="116.2" width="1" height="1.5" fill="#e0e0e0"/><rect x="1.9" y="116.9" width="1.5" height="1.5" fill="#c0c0c0"/><rect x="13.8" y="116.8" width="1.8" height="1.8" fill="#e0e0e0"/><rect x="20.2" y="116.9" width="1.8" height="1.5" fill="#fff"/><rect x="153.8" y="117.0" width="1" height="1" fill="#c0c0c0"/><rect x="3.3" y="117.8" width="1.5" height="1.5" fill="#c0c0c0"/><rect x="4.8" y="117.9" width="2.2" height="1" fill="#fff"/><rect x="6.0" y="118.0" width="1.5" height="1.8" fill="#fff"/><rect x="162.1" y="117.9" width="2.2" height="1.8" fill="#fff"/><rect x="167.2" y="117.9" width="1.8" height="1.8" fill="#fff"/></g>
<ellipse cx="-0.5" cy="94.6" rx="12.5" ry="12.5" fill="#000"/>
<ellipse cx="-0.5" cy="94.6" rx="11.3" ry="11.3" fill="#e8e8e8"/>
<ellipse cx="-0.5" cy="94.6" rx="10.1" ry="10.1" fill="#1a1a1a"/>
<ellipse cx="-0.5" cy="94.6" rx="8.9" ry="8.9" fill="#c0c0c0"/>
<ellipse cx="3" cy="91" rx="2.5" ry="4" fill="#dcdcdc"/>
<path d="M187,72 C179,72.5 172.5,78 170.5,86 C169,94 171,102 176,107 C179.5,109.5 183.5,110 187,110Z" fill="#000"/>
<path d="M187,73.8 C180,74.5 174,79.5 172.2,86.5 C171,94 172.8,101 177.3,105.5 C180.5,107.8 184,108.3 187,108.3Z" fill="#ececec"/>
<path d="M187,75.5 C181,76.5 176,81 174.2,87.2 C173.2,94 174.8,100 178.6,104 C181.5,106 184.5,106.5 187,106.5Z" fill="#1a1a1a"/>
<path d="M187,77 C182,78 177.8,82 176.2,88 C175.4,94 176.6,99.5 180,103 C182.5,104.5 185,104.8 187,104.8Z" fill="#c2c2c2"/>
<ellipse cx="181" cy="88" rx="3" ry="4" fill="#e4e4e4"/>
<path d="M62.00,6.00 C67.00,5.38 73.67,5.20 80.00,5.00 C86.33,4.80 92.67,4.72 100.00,4.80 C107.33,4.88 118.17,4.63 124.00,5.50 C129.83,6.37 131.83,8.38 135.00,10.00 C138.17,11.62 140.67,13.28 143.00,15.20 C145.33,17.12 147.17,19.40 149.00,21.50 C150.83,23.60 152.50,25.72 154.00,27.80 C155.50,29.88 156.75,31.72 158.00,34.00 C159.25,36.28 160.33,38.83 161.50,41.50 C162.67,44.17 163.83,46.92 165.00,50.00 C166.17,53.08 167.62,57.00 168.50,60.00 C169.38,63.00 170.13,65.67 170.30,68.00 C170.47,70.33 169.78,72.33 169.50,74.00 C169.22,75.67 169.10,76.00 168.60,78.00 C168.10,80.00 167.22,83.52 166.50,86.00 C165.78,88.48 165.22,90.90 164.30,92.90 C163.38,94.90 162.22,96.35 161.00,98.00 C159.78,99.65 158.50,101.47 157.00,102.80 C155.50,104.13 153.92,105.03 152.00,106.00 C150.08,106.97 148.33,107.77 145.50,108.60 C142.67,109.43 138.58,110.32 135.00,111.00 C131.42,111.68 129.83,112.28 124.00,112.70 C118.17,113.12 107.33,113.48 100.00,113.50 C92.67,113.52 86.33,113.13 80.00,112.80 C73.67,112.47 68.33,112.22 62.00,111.50 C55.67,110.78 47.17,109.58 42.00,108.50 C36.83,107.42 34.17,106.25 31.00,105.00 C27.83,103.75 25.33,102.67 23.00,101.00 C20.67,99.33 18.67,97.25 17.00,95.00 C15.33,92.75 14.17,90.00 13.00,87.50 C11.83,85.00 10.75,82.92 10.00,80.00 C9.25,77.08 8.75,73.50 8.50,70.00 C8.25,66.50 8.25,62.67 8.50,59.00 C8.75,55.33 9.25,51.17 10.00,48.00 C10.75,44.83 11.75,42.33 13.00,40.00 C14.25,37.67 16.00,36.00 17.50,34.00 C19.00,32.00 20.42,29.92 22.00,28.00 C23.58,26.08 25.17,24.42 27.00,22.50 C28.83,20.58 30.83,18.25 33.00,16.50 C35.17,14.75 37.17,13.30 40.00,12.00 C42.83,10.70 46.33,9.70 50.00,8.70 C53.67,7.70 57.00,6.62 62.00,6.00Z" fill="none" stroke="#000" stroke-width="5"/>
<clipPath id="cbodyc"><path d="M62.00,6.00 C67.00,5.38 73.67,5.20 80.00,5.00 C86.33,4.80 92.67,4.72 100.00,4.80 C107.33,4.88 118.17,4.63 124.00,5.50 C129.83,6.37 131.83,8.38 135.00,10.00 C138.17,11.62 140.67,13.28 143.00,15.20 C145.33,17.12 147.17,19.40 149.00,21.50 C150.83,23.60 152.50,25.72 154.00,27.80 C155.50,29.88 156.75,31.72 158.00,34.00 C159.25,36.28 160.33,38.83 161.50,41.50 C162.67,44.17 163.83,46.92 165.00,50.00 C166.17,53.08 167.62,57.00 168.50,60.00 C169.38,63.00 170.13,65.67 170.30,68.00 C170.47,70.33 169.78,72.33 169.50,74.00 C169.22,75.67 169.10,76.00 168.60,78.00 C168.10,80.00 167.22,83.52 166.50,86.00 C165.78,88.48 165.22,90.90 164.30,92.90 C163.38,94.90 162.22,96.35 161.00,98.00 C159.78,99.65 158.50,101.47 157.00,102.80 C155.50,104.13 153.92,105.03 152.00,106.00 C150.08,106.97 148.33,107.77 145.50,108.60 C142.67,109.43 138.58,110.32 135.00,111.00 C131.42,111.68 129.83,112.28 124.00,112.70 C118.17,113.12 107.33,113.48 100.00,113.50 C92.67,113.52 86.33,113.13 80.00,112.80 C73.67,112.47 68.33,112.22 62.00,111.50 C55.67,110.78 47.17,109.58 42.00,108.50 C36.83,107.42 34.17,106.25 31.00,105.00 C27.83,103.75 25.33,102.67 23.00,101.00 C20.67,99.33 18.67,97.25 17.00,95.00 C15.33,92.75 14.17,90.00 13.00,87.50 C11.83,85.00 10.75,82.92 10.00,80.00 C9.25,77.08 8.75,73.50 8.50,70.00 C8.25,66.50 8.25,62.67 8.50,59.00 C8.75,55.33 9.25,51.17 10.00,48.00 C10.75,44.83 11.75,42.33 13.00,40.00 C14.25,37.67 16.00,36.00 17.50,34.00 C19.00,32.00 20.42,29.92 22.00,28.00 C23.58,26.08 25.17,24.42 27.00,22.50 C28.83,20.58 30.83,18.25 33.00,16.50 C35.17,14.75 37.17,13.30 40.00,12.00 C42.83,10.70 46.33,9.70 50.00,8.70 C53.67,7.70 57.00,6.62 62.00,6.00Z"/></clipPath>
<path d="M62.00,6.00 C67.00,5.38 73.67,5.20 80.00,5.00 C86.33,4.80 92.67,4.72 100.00,4.80 C107.33,4.88 118.17,4.63 124.00,5.50 C129.83,6.37 131.83,8.38 135.00,10.00 C138.17,11.62 140.67,13.28 143.00,15.20 C145.33,17.12 147.17,19.40 149.00,21.50 C150.83,23.60 152.50,25.72 154.00,27.80 C155.50,29.88 156.75,31.72 158.00,34.00 C159.25,36.28 160.33,38.83 161.50,41.50 C162.67,44.17 163.83,46.92 165.00,50.00 C166.17,53.08 167.62,57.00 168.50,60.00 C169.38,63.00 170.13,65.67 170.30,68.00 C170.47,70.33 169.78,72.33 169.50,74.00 C169.22,75.67 169.10,76.00 168.60,78.00 C168.10,80.00 167.22,83.52 166.50,86.00 C165.78,88.48 165.22,90.90 164.30,92.90 C163.38,94.90 162.22,96.35 161.00,98.00 C159.78,99.65 158.50,101.47 157.00,102.80 C155.50,104.13 153.92,105.03 152.00,106.00 C150.08,106.97 148.33,107.77 145.50,108.60 C142.67,109.43 138.58,110.32 135.00,111.00 C131.42,111.68 129.83,112.28 124.00,112.70 C118.17,113.12 107.33,113.48 100.00,113.50 C92.67,113.52 86.33,113.13 80.00,112.80 C73.67,112.47 68.33,112.22 62.00,111.50 C55.67,110.78 47.17,109.58 42.00,108.50 C36.83,107.42 34.17,106.25 31.00,105.00 C27.83,103.75 25.33,102.67 23.00,101.00 C20.67,99.33 18.67,97.25 17.00,95.00 C15.33,92.75 14.17,90.00 13.00,87.50 C11.83,85.00 10.75,82.92 10.00,80.00 C9.25,77.08 8.75,73.50 8.50,70.00 C8.25,66.50 8.25,62.67 8.50,59.00 C8.75,55.33 9.25,51.17 10.00,48.00 C10.75,44.83 11.75,42.33 13.00,40.00 C14.25,37.67 16.00,36.00 17.50,34.00 C19.00,32.00 20.42,29.92 22.00,28.00 C23.58,26.08 25.17,24.42 27.00,22.50 C28.83,20.58 30.83,18.25 33.00,16.50 C35.17,14.75 37.17,13.30 40.00,12.00 C42.83,10.70 46.33,9.70 50.00,8.70 C53.67,7.70 57.00,6.62 62.00,6.00Z" fill="#2c2c2c"/>
<g clip-path="url(#cbodyc)">
<ellipse cx="92" cy="45" rx="55" ry="18" fill="#5a5a5a" opacity="0.8"/>
<ellipse cx="45" cy="88" rx="22" ry="7" fill="#9a9a9a" opacity="0.8" transform="rotate(28 45 88)"/>
<ellipse cx="140" cy="90" rx="22" ry="6" fill="#9a9a9a" opacity="0.8" transform="rotate(-30 140 90)"/>
<path d="M62.00,6.00 C67.00,5.38 73.67,5.20 80.00,5.00 C86.33,4.80 92.67,4.72 100.00,4.80 C107.33,4.88 118.17,4.63 124.00,5.50 C129.83,6.37 131.83,8.38 135.00,10.00 C138.17,11.62 140.67,13.28 143.00,15.20 C145.33,17.12 147.17,19.40 149.00,21.50 C150.83,23.60 152.50,25.72 154.00,27.80 C155.50,29.88 156.75,31.72 158.00,34.00 C159.25,36.28 160.33,38.83 161.50,41.50 C162.67,44.17 163.83,46.92 165.00,50.00 C166.17,53.08 167.62,57.00 168.50,60.00 C169.38,63.00 170.13,65.67 170.30,68.00 C170.47,70.33 169.78,72.33 169.50,74.00 C169.22,75.67 169.10,76.00 168.60,78.00 C168.10,80.00 167.22,83.52 166.50,86.00 C165.78,88.48 165.22,90.90 164.30,92.90 C163.38,94.90 162.22,96.35 161.00,98.00 C159.78,99.65 158.50,101.47 157.00,102.80 C155.50,104.13 153.92,105.03 152.00,106.00 C150.08,106.97 148.33,107.77 145.50,108.60 C142.67,109.43 138.58,110.32 135.00,111.00 C131.42,111.68 129.83,112.28 124.00,112.70 C118.17,113.12 107.33,113.48 100.00,113.50 C92.67,113.52 86.33,113.13 80.00,112.80 C73.67,112.47 68.33,112.22 62.00,111.50 C55.67,110.78 47.17,109.58 42.00,108.50 C36.83,107.42 34.17,106.25 31.00,105.00 C27.83,103.75 25.33,102.67 23.00,101.00 C20.67,99.33 18.67,97.25 17.00,95.00 C15.33,92.75 14.17,90.00 13.00,87.50 C11.83,85.00 10.75,82.92 10.00,80.00 C9.25,77.08 8.75,73.50 8.50,70.00 C8.25,66.50 8.25,62.67 8.50,59.00 C8.75,55.33 9.25,51.17 10.00,48.00 C10.75,44.83 11.75,42.33 13.00,40.00 C14.25,37.67 16.00,36.00 17.50,34.00 C19.00,32.00 20.42,29.92 22.00,28.00 C23.58,26.08 25.17,24.42 27.00,22.50 C28.83,20.58 30.83,18.25 33.00,16.50 C35.17,14.75 37.17,13.30 40.00,12.00 C42.83,10.70 46.33,9.70 50.00,8.70 C53.67,7.70 57.00,6.62 62.00,6.00Z" fill="none" stroke="#161616" stroke-width="29"/>
<path d="M62.00,6.00 C67.00,5.38 73.67,5.20 80.00,5.00 C86.33,4.80 92.67,4.72 100.00,4.80 C107.33,4.88 118.17,4.63 124.00,5.50 C129.83,6.37 131.83,8.38 135.00,10.00 C138.17,11.62 140.67,13.28 143.00,15.20 C145.33,17.12 147.17,19.40 149.00,21.50 C150.83,23.60 152.50,25.72 154.00,27.80 C155.50,29.88 156.75,31.72 158.00,34.00 C159.25,36.28 160.33,38.83 161.50,41.50 C162.67,44.17 163.83,46.92 165.00,50.00 C166.17,53.08 167.62,57.00 168.50,60.00 C169.38,63.00 170.13,65.67 170.30,68.00 C170.47,70.33 169.78,72.33 169.50,74.00 C169.22,75.67 169.10,76.00 168.60,78.00 C168.10,80.00 167.22,83.52 166.50,86.00 C165.78,88.48 165.22,90.90 164.30,92.90 C163.38,94.90 162.22,96.35 161.00,98.00 C159.78,99.65 158.50,101.47 157.00,102.80 C155.50,104.13 153.92,105.03 152.00,106.00 C150.08,106.97 148.33,107.77 145.50,108.60 C142.67,109.43 138.58,110.32 135.00,111.00 C131.42,111.68 129.83,112.28 124.00,112.70 C118.17,113.12 107.33,113.48 100.00,113.50 C92.67,113.52 86.33,113.13 80.00,112.80 C73.67,112.47 68.33,112.22 62.00,111.50 C55.67,110.78 47.17,109.58 42.00,108.50 C36.83,107.42 34.17,106.25 31.00,105.00 C27.83,103.75 25.33,102.67 23.00,101.00 C20.67,99.33 18.67,97.25 17.00,95.00 C15.33,92.75 14.17,90.00 13.00,87.50 C11.83,85.00 10.75,82.92 10.00,80.00 C9.25,77.08 8.75,73.50 8.50,70.00 C8.25,66.50 8.25,62.67 8.50,59.00 C8.75,55.33 9.25,51.17 10.00,48.00 C10.75,44.83 11.75,42.33 13.00,40.00 C14.25,37.67 16.00,36.00 17.50,34.00 C19.00,32.00 20.42,29.92 22.00,28.00 C23.58,26.08 25.17,24.42 27.00,22.50 C28.83,20.58 30.83,18.25 33.00,16.50 C35.17,14.75 37.17,13.30 40.00,12.00 C42.83,10.70 46.33,9.70 50.00,8.70 C53.67,7.70 57.00,6.62 62.00,6.00Z" fill="none" stroke="#959595" stroke-width="24"/>
<path d="M62.00,6.00 C67.00,5.38 73.67,5.20 80.00,5.00 C86.33,4.80 92.67,4.72 100.00,4.80 C107.33,4.88 118.17,4.63 124.00,5.50 C129.83,6.37 131.83,8.38 135.00,10.00 C138.17,11.62 140.67,13.28 143.00,15.20 C145.33,17.12 147.17,19.40 149.00,21.50 C150.83,23.60 152.50,25.72 154.00,27.80 C155.50,29.88 156.75,31.72 158.00,34.00 C159.25,36.28 160.33,38.83 161.50,41.50 C162.67,44.17 163.83,46.92 165.00,50.00 C166.17,53.08 167.62,57.00 168.50,60.00 C169.38,63.00 170.13,65.67 170.30,68.00 C170.47,70.33 169.78,72.33 169.50,74.00 C169.22,75.67 169.10,76.00 168.60,78.00 C168.10,80.00 167.22,83.52 166.50,86.00 C165.78,88.48 165.22,90.90 164.30,92.90 C163.38,94.90 162.22,96.35 161.00,98.00 C159.78,99.65 158.50,101.47 157.00,102.80 C155.50,104.13 153.92,105.03 152.00,106.00 C150.08,106.97 148.33,107.77 145.50,108.60 C142.67,109.43 138.58,110.32 135.00,111.00 C131.42,111.68 129.83,112.28 124.00,112.70 C118.17,113.12 107.33,113.48 100.00,113.50 C92.67,113.52 86.33,113.13 80.00,112.80 C73.67,112.47 68.33,112.22 62.00,111.50 C55.67,110.78 47.17,109.58 42.00,108.50 C36.83,107.42 34.17,106.25 31.00,105.00 C27.83,103.75 25.33,102.67 23.00,101.00 C20.67,99.33 18.67,97.25 17.00,95.00 C15.33,92.75 14.17,90.00 13.00,87.50 C11.83,85.00 10.75,82.92 10.00,80.00 C9.25,77.08 8.75,73.50 8.50,70.00 C8.25,66.50 8.25,62.67 8.50,59.00 C8.75,55.33 9.25,51.17 10.00,48.00 C10.75,44.83 11.75,42.33 13.00,40.00 C14.25,37.67 16.00,36.00 17.50,34.00 C19.00,32.00 20.42,29.92 22.00,28.00 C23.58,26.08 25.17,24.42 27.00,22.50 C28.83,20.58 30.83,18.25 33.00,16.50 C35.17,14.75 37.17,13.30 40.00,12.00 C42.83,10.70 46.33,9.70 50.00,8.70 C53.67,7.70 57.00,6.62 62.00,6.00Z" fill="none" stroke="#cacaca" stroke-width="15"/>
<path d="M62.00,6.00 C67.00,5.38 73.67,5.20 80.00,5.00 C86.33,4.80 92.67,4.72 100.00,4.80 C107.33,4.88 118.17,4.63 124.00,5.50 C129.83,6.37 131.83,8.38 135.00,10.00 C138.17,11.62 140.67,13.28 143.00,15.20 C145.33,17.12 147.17,19.40 149.00,21.50 C150.83,23.60 152.50,25.72 154.00,27.80 C155.50,29.88 156.75,31.72 158.00,34.00 C159.25,36.28 160.33,38.83 161.50,41.50 C162.67,44.17 163.83,46.92 165.00,50.00 C166.17,53.08 167.62,57.00 168.50,60.00 C169.38,63.00 170.13,65.67 170.30,68.00 C170.47,70.33 169.78,72.33 169.50,74.00 C169.22,75.67 169.10,76.00 168.60,78.00 C168.10,80.00 167.22,83.52 166.50,86.00 C165.78,88.48 165.22,90.90 164.30,92.90 C163.38,94.90 162.22,96.35 161.00,98.00 C159.78,99.65 158.50,101.47 157.00,102.80 C155.50,104.13 153.92,105.03 152.00,106.00 C150.08,106.97 148.33,107.77 145.50,108.60 C142.67,109.43 138.58,110.32 135.00,111.00 C131.42,111.68 129.83,112.28 124.00,112.70 C118.17,113.12 107.33,113.48 100.00,113.50 C92.67,113.52 86.33,113.13 80.00,112.80 C73.67,112.47 68.33,112.22 62.00,111.50 C55.67,110.78 47.17,109.58 42.00,108.50 C36.83,107.42 34.17,106.25 31.00,105.00 C27.83,103.75 25.33,102.67 23.00,101.00 C20.67,99.33 18.67,97.25 17.00,95.00 C15.33,92.75 14.17,90.00 13.00,87.50 C11.83,85.00 10.75,82.92 10.00,80.00 C9.25,77.08 8.75,73.50 8.50,70.00 C8.25,66.50 8.25,62.67 8.50,59.00 C8.75,55.33 9.25,51.17 10.00,48.00 C10.75,44.83 11.75,42.33 13.00,40.00 C14.25,37.67 16.00,36.00 17.50,34.00 C19.00,32.00 20.42,29.92 22.00,28.00 C23.58,26.08 25.17,24.42 27.00,22.50 C28.83,20.58 30.83,18.25 33.00,16.50 C35.17,14.75 37.17,13.30 40.00,12.00 C42.83,10.70 46.33,9.70 50.00,8.70 C53.67,7.70 57.00,6.62 62.00,6.00Z" fill="none" stroke="#0c0c0c" stroke-width="8"/>
<path d="M62.00,6.00 C67.00,5.38 73.67,5.20 80.00,5.00 C86.33,4.80 92.67,4.72 100.00,4.80 C107.33,4.88 118.17,4.63 124.00,5.50 C129.83,6.37 131.83,8.38 135.00,10.00 C138.17,11.62 140.67,13.28 143.00,15.20 C145.33,17.12 147.17,19.40 149.00,21.50 C150.83,23.60 152.50,25.72 154.00,27.80 C155.50,29.88 156.75,31.72 158.00,34.00 C159.25,36.28 160.33,38.83 161.50,41.50 C162.67,44.17 163.83,46.92 165.00,50.00 C166.17,53.08 167.62,57.00 168.50,60.00 C169.38,63.00 170.13,65.67 170.30,68.00 C170.47,70.33 169.78,72.33 169.50,74.00 C169.22,75.67 169.10,76.00 168.60,78.00 C168.10,80.00 167.22,83.52 166.50,86.00 C165.78,88.48 165.22,90.90 164.30,92.90 C163.38,94.90 162.22,96.35 161.00,98.00 C159.78,99.65 158.50,101.47 157.00,102.80 C155.50,104.13 153.92,105.03 152.00,106.00 C150.08,106.97 148.33,107.77 145.50,108.60 C142.67,109.43 138.58,110.32 135.00,111.00 C131.42,111.68 129.83,112.28 124.00,112.70 C118.17,113.12 107.33,113.48 100.00,113.50 C92.67,113.52 86.33,113.13 80.00,112.80 C73.67,112.47 68.33,112.22 62.00,111.50 C55.67,110.78 47.17,109.58 42.00,108.50 C36.83,107.42 34.17,106.25 31.00,105.00 C27.83,103.75 25.33,102.67 23.00,101.00 C20.67,99.33 18.67,97.25 17.00,95.00 C15.33,92.75 14.17,90.00 13.00,87.50 C11.83,85.00 10.75,82.92 10.00,80.00 C9.25,77.08 8.75,73.50 8.50,70.00 C8.25,66.50 8.25,62.67 8.50,59.00 C8.75,55.33 9.25,51.17 10.00,48.00 C10.75,44.83 11.75,42.33 13.00,40.00 C14.25,37.67 16.00,36.00 17.50,34.00 C19.00,32.00 20.42,29.92 22.00,28.00 C23.58,26.08 25.17,24.42 27.00,22.50 C28.83,20.58 30.83,18.25 33.00,16.50 C35.17,14.75 37.17,13.30 40.00,12.00 C42.83,10.70 46.33,9.70 50.00,8.70 C53.67,7.70 57.00,6.62 62.00,6.00Z" fill="none" stroke="#f0f0f0" stroke-width="2.6"/>
<path d="M38,9 C60,5.5 110,5 142,9 L142,14 C110,12.8 70,12.8 38,14 Z" fill="#0a0a0a"/>
<path d="M46,14 C70,12.8 110,12.8 136,14.5 L134,23 C112,22 100,22 95,22.5 L91,18.5 L87,22.5 C75,22.5 62,23 44,24 Z" fill="#a2a2a2"/>
<path d="M46,14 C70,12.8 110,12.8 136,14.5 L136,16 C110,14.5 70,14.5 46,15.5 Z" fill="#bdbdbd"/>
<path d="M44,24 C65,23 80,22.5 92,23 C110,22.5 125,22.5 138,25 L136,28 C120,26.5 105,26.5 92,27 C78,27 64,27.5 44,28Z" fill="#121212"/>
<path d="M62.00,6.00 C67.00,5.38 73.67,5.20 80.00,5.00 C86.33,4.80 92.67,4.72 100.00,4.80 C107.33,4.88 118.17,4.63 124.00,5.50 C129.83,6.37 131.83,8.38 135.00,10.00 C138.17,11.62 140.67,13.28 143.00,15.20 C145.33,17.12 147.17,19.40 149.00,21.50 C150.83,23.60 152.50,25.72 154.00,27.80 C155.50,29.88 156.75,31.72 158.00,34.00 C159.25,36.28 160.33,38.83 161.50,41.50 C162.67,44.17 163.83,46.92 165.00,50.00 C166.17,53.08 167.62,57.00 168.50,60.00 C169.38,63.00 170.13,65.67 170.30,68.00 C170.47,70.33 169.78,72.33 169.50,74.00 C169.22,75.67 169.10,76.00 168.60,78.00 C168.10,80.00 167.22,83.52 166.50,86.00 C165.78,88.48 165.22,90.90 164.30,92.90 C163.38,94.90 162.22,96.35 161.00,98.00 C159.78,99.65 158.50,101.47 157.00,102.80 C155.50,104.13 153.92,105.03 152.00,106.00 C150.08,106.97 148.33,107.77 145.50,108.60 C142.67,109.43 138.58,110.32 135.00,111.00 C131.42,111.68 129.83,112.28 124.00,112.70 C118.17,113.12 107.33,113.48 100.00,113.50 C92.67,113.52 86.33,113.13 80.00,112.80 C73.67,112.47 68.33,112.22 62.00,111.50 C55.67,110.78 47.17,109.58 42.00,108.50 C36.83,107.42 34.17,106.25 31.00,105.00 C27.83,103.75 25.33,102.67 23.00,101.00 C20.67,99.33 18.67,97.25 17.00,95.00 C15.33,92.75 14.17,90.00 13.00,87.50 C11.83,85.00 10.75,82.92 10.00,80.00 C9.25,77.08 8.75,73.50 8.50,70.00 C8.25,66.50 8.25,62.67 8.50,59.00 C8.75,55.33 9.25,51.17 10.00,48.00 C10.75,44.83 11.75,42.33 13.00,40.00 C14.25,37.67 16.00,36.00 17.50,34.00 C19.00,32.00 20.42,29.92 22.00,28.00 C23.58,26.08 25.17,24.42 27.00,22.50 C28.83,20.58 30.83,18.25 33.00,16.50 C35.17,14.75 37.17,13.30 40.00,12.00 C42.83,10.70 46.33,9.70 50.00,8.70 C53.67,7.70 57.00,6.62 62.00,6.00Z" fill="none" stroke="#f0f0f0" stroke-width="2.6"/>
<path d="M30,101 C50,104 70,104.8 90,105 C110,104.8 130,104 155,100 L158,106 C130,110 110,110.5 90,110.5 C70,110.5 50,110 28,106Z" fill="#0c0c0c"/>
<path d="M40,107.8 C60,108.2 78,108.3 90,107.6 C102,108.3 120,108.2 145,107.3 L150,110 C130,113.5 110,114 90,114 C70,114 50,113.5 35,111Z" fill="#d0d0d0"/>
<path d="M60,111 C75,111.3 85,110.5 90,109.5 C95,110.5 105,111.3 120,111 L120,112.3 C105,112.6 95,112.6 90,112.4 C85,112.6 75,112.6 60,112.3Z" fill="#f0f0f0"/>
<path d="M70.00,60.00 C75.50,56.92 85.33,56.50 93.00,56.50 C100.67,56.50 110.17,57.08 116.00,60.00 C121.83,62.92 125.67,69.00 128.00,74.00 C130.33,79.00 130.17,85.17 130.00,90.00 C129.83,94.83 130.33,100.42 127.00,103.00 C123.67,105.58 115.67,105.17 110.00,105.50 C104.33,105.83 99.33,105.00 93.00,105.00 C86.67,105.00 77.83,105.83 72.00,105.50 C66.17,105.17 60.50,105.58 58.00,103.00 C55.50,100.42 56.67,94.67 57.00,90.00 C57.33,85.33 57.83,80.00 60.00,75.00 C62.17,70.00 64.50,63.08 70.00,60.00Z" fill="#c4c4c4"/>
<path d="M85,80 L100,80 L97.5,88 L94.5,92 L94,104 L90.5,104 L90,92 L87,88Z" fill="#eeeeee"/>
<path d="M87,86 C82,88 80,90 78,92 M97,86 C102,88 104,90 106,92" stroke="#e0e0e0" stroke-width="2" fill="none"/>
</g>
<circle cx="65.3" cy="35.2" r="8" fill="#a0cc8c" opacity="0.93" stroke="#70a858" stroke-width="0.6"/>
<circle cx="74.4" cy="34.2" r="8" fill="#a0cc8c" opacity="0.93" stroke="#70a858" stroke-width="0.6"/>
<circle cx="82.5" cy="33.2" r="8" fill="#a0cc8c" opacity="0.93" stroke="#70a858" stroke-width="0.6"/>
<circle cx="91.5" cy="31.2" r="7.5" fill="#a0cc8c" opacity="0.93" stroke="#70a858" stroke-width="0.6"/>
<circle cx="103.7" cy="28" r="6.5" fill="#a0cc8c" opacity="0.93" stroke="#70a858" stroke-width="0.6"/>
<circle cx="111.7" cy="27" r="6.5" fill="#a0cc8c" opacity="0.93" stroke="#70a858" stroke-width="0.6"/>
<circle cx="119.8" cy="28" r="6.5" fill="#a0cc8c" opacity="0.93" stroke="#70a858" stroke-width="0.6"/>
<circle cx="125" cy="29" r="7" fill="#a0cc8c" opacity="0.93" stroke="#70a858" stroke-width="0.6"/>
<circle cx="131" cy="30" r="6.5" fill="#a0cc8c" opacity="0.93" stroke="#70a858" stroke-width="0.6"/>
<circle cx="141.5" cy="38.5" r="7" fill="#a0cc8c" opacity="0.93" stroke="#70a858" stroke-width="0.6"/>
<circle cx="139" cy="50" r="7" fill="#a0cc8c" opacity="0.93" stroke="#70a858" stroke-width="0.6"/>
<circle cx="116.5" cy="50.5" r="7.5" fill="#a0cc8c" opacity="0.93" stroke="#70a858" stroke-width="0.6"/>
<circle cx="29" cy="60.5" r="7" fill="#a0cc8c" opacity="0.93" stroke="#70a858" stroke-width="0.6"/>
<ellipse cx="47" cy="48.3" rx="14" ry="9" transform="rotate(0 47 48.3)" fill="#a0cc8c" opacity="0.93" stroke="#70a858" stroke-width="0.6"/>
<ellipse cx="82" cy="48.3" rx="14" ry="4.5" transform="rotate(-12 82 48.3)" fill="#a0cc8c" opacity="0.93" stroke="#70a858" stroke-width="0.6"/>
<ellipse cx="86" cy="54.8" rx="4.6" ry="4.6" fill="#98dce2" opacity="0.97" stroke="#58a8b8" stroke-width="0.5"/>
<ellipse cx="101.2" cy="54.4" rx="7.5" ry="5" fill="#98dce2" opacity="0.97" stroke="#58a8b8" stroke-width="0.5"/>
<ellipse cx="104.6" cy="44" rx="6" ry="3.3" fill="#3444c0" opacity="0.95"/>
<ellipse cx="51.2" cy="71.1" rx="14.1" ry="12.1" fill="#8484da" opacity="0.97" stroke="#4040a0" stroke-width="0.7"/>
<circle cx="54.5" cy="69" r="2.2" fill="#20286a"/>
<ellipse cx="127.4" cy="69.5" rx="11.3" ry="11.7" fill="#8484da" opacity="0.97" stroke="#4040a0" stroke-width="0.7"/>
<ellipse cx="150.7" cy="61.2" rx="9" ry="16" fill="#5c5cc4" opacity="0.97" stroke="#2a2a90" stroke-width="0.7" transform="rotate(15 150.7 61.2)"/>
<path d="M72.00,68.00 C72.75,66.85 78.50,63.70 80.00,63.50 C81.50,63.30 86.10,65.15 87.00,66.00 C87.90,66.85 89.10,70.80 89.00,72.00 C88.90,73.20 87.10,77.35 86.00,78.00 C84.90,78.65 79.35,78.80 78.00,78.50 C76.65,78.20 73.10,76.05 72.50,75.00 C71.90,73.95 71.25,69.15 72.00,68.00Z" fill="#d6ae8e" opacity="0.97" stroke="#b07060" stroke-width="0.6"/>
<path d="M99.00,66.00 C99.75,65.05 104.70,63.60 106.00,63.50 C107.30,63.40 111.20,64.25 112.00,65.00 C112.80,65.75 114.00,69.80 114.00,71.00 C114.00,72.20 113.00,76.28 112.00,77.00 C111.00,77.72 105.35,78.60 104.00,78.20 C102.65,77.80 99.00,74.22 98.50,73.00 C98.00,71.78 98.25,66.95 99.00,66.00Z" fill="#d6ae8e" opacity="0.97" stroke="#b07060" stroke-width="0.6"/>
<path d="M59.00,89.50 C60.83,87.83 66.50,87.92 70.00,88.00 C73.50,88.08 77.08,88.67 80.00,90.00 C82.92,91.33 86.67,93.92 87.50,96.00 C88.33,98.08 87.25,101.17 85.00,102.50 C82.75,103.83 77.67,103.83 74.00,104.00 C70.33,104.17 65.50,104.50 63.00,103.50 C60.50,102.50 59.67,100.33 59.00,98.00 C58.33,95.67 57.17,91.17 59.00,89.50Z" fill="#d6ae8e" opacity="0.97" stroke="#b07060" stroke-width="0.6"/>
<path d="M94.50,96.00 C95.17,93.83 97.58,90.83 101.00,89.50 C104.42,88.17 111.25,87.92 115.00,88.00 C118.75,88.08 121.92,88.33 123.50,90.00 C125.08,91.67 124.92,95.75 124.50,98.00 C124.08,100.25 123.75,102.50 121.00,103.50 C118.25,104.50 112.00,104.17 108.00,104.00 C104.00,103.83 99.25,103.83 97.00,102.50 C94.75,101.17 93.83,98.17 94.50,96.00Z" fill="#d6ae8e" opacity="0.97" stroke="#b07060" stroke-width="0.6"/>
</g></g>
</svg>
</body></html>
